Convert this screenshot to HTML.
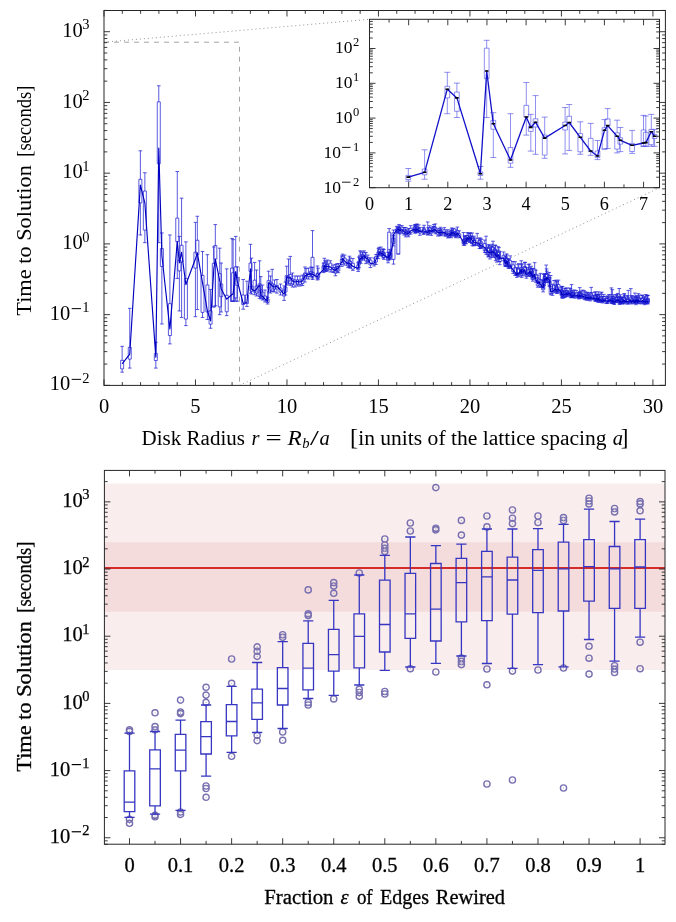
<!DOCTYPE html><html><head><meta charset="utf-8"><style>html,body{margin:0;padding:0;background:#fff;width:676px;height:922px;overflow:hidden}svg{display:block;will-change:transform}text{font-family:"Liberation Serif",serif;fill:#000}</style></head><body>
<svg width="676" height="922" viewBox="0 0 676 922">
<defs><clipPath id="cO"><rect x="104.0" y="10.5" width="561.4" height="374.9"/></clipPath><clipPath id="cI"><rect x="369.5" y="19.3" width="290.0" height="168.39999999999998"/></clipPath><clipPath id="cB"><rect x="104.4" y="470.4" width="560.6" height="373.8"/></clipPath></defs>
<path d="M104 42.2H239.5V385.4" fill="none" stroke="#959595" stroke-width="0.85" stroke-dasharray="5 5"/>
<path d="M104 42.2L369.5 19.3 M239.5 385.4L659.5 187.7" fill="none" stroke="#8c8c8c" stroke-width="0.95" stroke-dasharray="1 3"/>
<g clip-path="url(#cO)">
<path d="M122.13 346.34V360.36 M122.13 368.9V372.15 M120.33 346.34h3.6 M120.33 372.15h3.6 M120.63 360.36h3V368.9h-3Z M129.75 308.33V347.35 M129.75 359.14V368.08 M127.95 308.33h3.6 M127.95 368.08h3.6 M128.25 347.35h3V359.14h-3Z M140.36 150.81V179.27 M140.36 202.84V234.96 M138.56 150.81h3.6 M138.56 234.96h3.6 M138.86 179.27h3V202.84h-3Z M144.85 172.76V191.06 M144.85 230.08V242.68 M143.05 172.76h3.6 M143.05 242.68h3.6 M143.35 191.06h3V230.08h-3Z M155.83 342.27V353.45 M155.83 360.56V368.08 M154.03 342.27h3.6 M154.03 368.08h3.6 M154.33 353.45h3V360.56h-3Z M158.77 85.77V101.83 M158.77 163.82V242.68 M156.97 85.77h3.6 M156.97 242.68h3.6 M157.27 101.83h3V163.82h-3Z M161.86 232.92V248.57 M161.86 266.46V323.98 M160.06 232.92h3.6 M160.06 323.98h3.6 M160.36 248.57h3V266.46h-3Z M169.9 234.96V303.65 M169.9 335.56V343.9 M168.1 234.96h3.6 M168.1 343.9h3.6 M168.4 303.65h3V335.56h-3Z M177.28 171.54V218.09 M177.28 241.66V278.45 M175.48 171.54h3.6 M175.48 278.45h3.6 M175.78 218.09h3V241.66h-3Z M179.38 236.38V260.36 M179.38 270.93V310.97 M177.58 236.38h3.6 M177.58 310.97h3.6 M177.88 260.36h3V270.93h-3Z M181.58 198.17V245.32 M181.58 261.99V317.48 M179.78 198.17h3.6 M179.78 317.48h3.6 M180.08 245.32h3V261.99h-3Z M185.88 241.87V278.45 M185.88 319.1V325.61 M184.08 241.87h3.6 M184.08 325.61h3.6 M184.38 278.45h3V319.1h-3Z M195.41 222.36V252.23 M195.41 268.09V316.66 M193.61 222.36h3.6 M193.61 316.66h3.6 M193.91 252.23h3V268.09h-3Z M197.33 216.26V240.24 M197.33 254.47V309.55 M195.53 216.26h3.6 M195.53 309.55h3.6 M195.83 240.24h3V254.47h-3Z M202.52 251.42V275.4 M202.52 312.39V317.48 M200.72 251.42h3.6 M200.72 317.48h3.6 M201.02 275.4h3V312.39h-3Z M207.38 254.67V284.96 M207.38 311.99V319.51 M205.58 254.67h3.6 M205.58 319.51h3.6 M205.88 284.96h3V311.99h-3Z M210.56 289.43V310.77 M210.56 324.18V328.25 M208.76 289.43h3.6 M208.76 328.25h3.6 M209.06 310.77h3V324.18h-3Z M213.83 246.95V263.41 M213.83 306.91V306.91 M212.03 246.95h3.6 M212.03 306.91h3.6 M212.33 263.41h3V306.91h-3Z M215.32 224.59V245.53 M215.32 259.14V305.69 M213.52 224.59h3.6 M213.52 305.69h3.6 M213.82 245.53h3V259.14h-3Z M219.72 248.17V273.78 M219.72 306.91V314.63 M217.92 248.17h3.6 M217.92 314.63h3.6 M218.22 273.78h3V306.91h-3Z M221.21 263.01V283.94 M221.21 296.74V311.99 M219.41 263.01h3.6 M219.41 311.99h3.6 M219.71 283.94h3V296.74h-3Z M226.73 268.9V295.32 M226.73 311.78V315.65 M224.93 268.9h3.6 M224.93 315.65h3.6 M225.23 295.32h3V311.78h-3Z M232.06 238.41V268.09 M232.06 301.22V301.22 M230.26 238.41h3.6 M230.26 301.22h3.6 M230.56 268.09h3V301.22h-3Z M233.13 239.63V272.76 M233.13 301.22V301.22 M231.33 239.63h3.6 M231.33 301.22h3.6 M231.63 272.76h3V301.22h-3Z M235.7 236.38V266.87 M235.7 297.96V301.22 M233.9 236.38h3.6 M233.9 301.22h3.6 M234.2 266.87h3V297.96h-3Z M237.24 266.87V277.44 M237.24 285.36V301.22 M235.44 266.87h3.6 M235.44 301.22h3.6 M235.74 277.44h3V285.36h-3Z M243.2 279.5V295 M243.2 304.5V309.2 M241.4 279.5h3.6 M241.4 309.2h3.6 M241.7 295h3V304.5h-3Z M246.9 281.2V295 M246.9 303.5V306.4 M245.1 281.2h3.6 M245.1 306.4h3.6 M245.4 295h3V303.5h-3Z M250.5 244.3V263.1 M250.5 271.4V293.1 M248.7 244.3h3.6 M248.7 293.1h3.6 M249 263.1h3V271.4h-3Z M251.5 258.2V286 M251.5 291V294 M249.7 258.2h3.6 M249.7 294h3.6 M250 286h3V291h-3Z M254.6 262.4V280.2 M254.6 292.1V294.7 M252.8 262.4h3.6 M252.8 294.7h3.6 M253.1 280.2h3V292.1h-3Z M256.5 270V286 M256.5 293V296 M254.7 270h3.6 M254.7 296h3.6 M255 286h3V293h-3Z M259.6 260.8V283.8 M259.6 296.3V298.3 M257.8 260.8h3.6 M257.8 298.3h3.6 M258.1 283.8h3V296.3h-3Z M260.8 276.6V290 M260.8 297V298.8 M259 276.6h3.6 M259 298.8h3.6 M259.3 290h3V297h-3Z M262.5 285V292 M262.5 298V300 M260.7 285h3.6 M260.7 300h3.6 M261 292h3V298h-3Z M265 290V296 M265 300V302 M263.2 290h3.6 M263.2 302h3.6 M263.5 296h3V300h-3Z M267.6 297.3V299 M267.6 302.5V304 M265.8 297.3h3.6 M265.8 304h3.6 M266.1 299h3V302.5h-3Z M268.6 271.2V280.7 M268.6 288V292 M266.8 271.2h3.6 M266.8 292h3.6 M267.1 280.7h3V288h-3Z M270.5 276V282 M270.5 290V293 M268.7 276h3.6 M268.7 293h3.6 M269 282h3V290h-3Z M272.2 269.3V283.8 M272.2 291V291.5 M270.4 269.3h3.6 M270.4 291.5h3.6 M270.7 283.8h3V291h-3Z M274.5 280V285 M274.5 289V292 M272.7 280h3.6 M272.7 292h3.6 M273 285h3V289h-3Z M276.9 279.5V285.4 M276.9 289V293.1 M275.1 279.5h3.6 M275.1 293.1h3.6 M275.4 285.4h3V289h-3Z M280.5 284V288 M280.5 292V295 M278.7 284h3.6 M278.7 295h3.6 M279 288h3V292h-3Z M284.1 285.9V290 M284.1 296V300.4 M282.3 285.9h3.6 M282.3 300.4h3.6 M282.6 290h3V296h-3Z M285.5 282V287 M285.5 292V295 M283.7 282h3.6 M283.7 295h3.6 M284 287h3V292h-3Z M286.7 266.2V275.6 M286.7 282.8V285 M284.9 266.2h3.6 M284.9 285h3.6 M285.2 275.6h3V282.8h-3Z M288.5 259V276 M288.5 281V284 M286.7 259h3.6 M286.7 284h3.6 M287 276h3V281h-3Z M290.3 256.4V274.5 M290.3 283.8V285.4 M288.5 256.4h3.6 M288.5 285.4h3.6 M288.8 274.5h3V283.8h-3Z M292.5 273V279 M292.5 284V287 M290.7 273h3.6 M290.7 287h3.6 M291 279h3V284h-3Z M295 276V280 M295 285V287 M293.2 276h3.6 M293.2 287h3.6 M293.5 280h3V285h-3Z M297.5 276V280 M297.5 284V286 M295.7 276h3.6 M295.7 286h3.6 M296 280h3V284h-3Z M300 276V280 M300 284.5V286 M298.2 276h3.6 M298.2 286h3.6 M298.5 280h3V284.5h-3Z M302.5 275V279 M302.5 283.5V285.5 M300.7 275h3.6 M300.7 285.5h3.6 M301 279h3V283.5h-3Z M305 267V273 M305 279V282 M303.2 267h3.6 M303.2 282h3.6 M303.5 273h3V279h-3Z M306.1 268.55V273.48 M306.1 276.09V278.09 M304.3 268.55h3.6 M304.3 278.09h3.6 M304.6 273.48h3V276.09h-3Z M308.57 268.1V273.11 M308.57 276.39V279.08 M306.77 268.1h3.6 M306.77 279.08h3.6 M307.07 273.11h3V276.39h-3Z M311.01 267.05V271.41 M311.01 274.89V276.89 M309.21 267.05h3.6 M309.21 276.89h3.6 M309.51 271.41h3V274.89h-3Z M312.5 230.6V257.3 M312.5 276V278 M310.7 230.6h3.6 M310.7 278h3.6 M311 257.3h3V276h-3Z M312.62 267.4V272.41 M312.62 276.82V279.48 M310.82 267.4h3.6 M310.82 279.48h3.6 M311.12 272.41h3V276.82h-3Z M317.38 266.01V273.73 M317.38 278.36V279.98 M315.58 266.01h3.6 M315.58 279.98h3.6 M315.88 273.73h3V278.36h-3Z M318.16 268.16V273.06 M318.16 277.3V279.12 M316.36 268.16h3.6 M316.36 279.12h3.6 M316.66 273.06h3V277.3h-3Z M323.56 263.1V265.76 M323.56 271.26V272.61 M321.76 263.1h3.6 M321.76 272.61h3.6 M322.06 265.76h3V271.26h-3Z M324.33 258.28V262.81 M324.33 268.48V270.35 M322.53 258.28h3.6 M322.53 270.35h3.6 M322.83 262.81h3V268.48h-3Z M325.08 260.73V265.47 M325.08 269.14V271.64 M323.28 260.73h3.6 M323.28 271.64h3.6 M323.58 265.47h3V269.14h-3Z M326.59 261.74V264.74 M326.59 268.93V271.46 M324.79 261.74h3.6 M324.79 271.46h3.6 M325.09 264.74h3V268.93h-3Z M327.34 259.99V264.16 M327.34 269.29V270.53 M325.54 259.99h3.6 M325.54 270.53h3.6 M325.84 264.16h3V269.29h-3Z M330.32 260.75V263.18 M330.32 269.41V271.99 M328.52 260.75h3.6 M328.52 271.99h3.6 M328.82 263.18h3V269.41h-3Z M333.26 265.1V267.49 M333.26 271.64V272.55 M331.46 265.1h3.6 M331.46 272.55h3.6 M331.76 267.49h3V271.64h-3Z M335.44 264.42V267.7 M335.44 273.12V275.78 M333.64 264.42h3.6 M333.64 275.78h3.6 M333.94 267.7h3V273.12h-3Z M336.88 263.82V266.52 M336.88 269.87V271.95 M335.08 263.82h3.6 M335.08 271.95h3.6 M335.38 266.52h3V269.87h-3Z M338.32 263.6V266.63 M338.32 270.9V272.71 M336.52 263.6h3.6 M336.52 272.71h3.6 M336.82 266.63h3V270.9h-3Z M341.86 255.89V259.35 M341.86 264.43V266.38 M340.06 255.89h3.6 M340.06 266.38h3.6 M340.36 259.35h3V264.43h-3Z M342.56 254.14V256.13 M342.56 259.76V262.25 M340.76 254.14h3.6 M340.76 262.25h3.6 M341.06 256.13h3V259.76h-3Z M344.66 255.08V258.02 M344.66 263.18V265.1 M342.86 255.08h3.6 M342.86 265.1h3.6 M343.16 258.02h3V263.18h-3Z M348.11 259.87V262.57 M348.11 266.03V267.46 M346.31 259.87h3.6 M346.31 267.46h3.6 M346.61 262.57h3V266.03h-3Z M349.48 256.22V260.88 M349.48 265.99V267.75 M347.68 256.22h3.6 M347.68 267.75h3.6 M347.98 260.88h3V265.99h-3Z M350.16 257.96V261.26 M350.16 266.1V268.04 M348.36 257.96h3.6 M348.36 268.04h3.6 M348.66 261.26h3V266.1h-3Z M352.87 258.55V263.28 M352.87 268.99V270.37 M351.07 258.55h3.6 M351.07 270.37h3.6 M351.37 263.28h3V268.99h-3Z M358.19 262.78V265.09 M358.19 269.67V271.42 M356.39 262.78h3.6 M356.39 271.42h3.6 M356.69 265.09h3V269.67h-3Z M358.85 257.05V261.3 M358.85 264.86V267.52 M357.05 257.05h3.6 M357.05 267.52h3.6 M357.35 261.3h3V264.86h-3Z M360.16 250.75V255.28 M360.16 259.37V262.18 M358.36 250.75h3.6 M358.36 262.18h3.6 M358.66 255.28h3V259.37h-3Z M360.81 251.9V256.74 M360.81 260.81V263.34 M359.01 251.9h3.6 M359.01 263.34h3.6 M359.31 256.74h3V260.81h-3Z M362.76 251.92V254.44 M362.76 258.53V260.02 M360.96 251.92h3.6 M360.96 260.02h3.6 M361.26 254.44h3V258.53h-3Z M364.05 250.8V252.79 M364.05 257.19V258.71 M362.25 250.8h3.6 M362.25 258.71h3.6 M362.55 252.79h3V257.19h-3Z M365.97 252.45V256.69 M365.97 260.84V263.64 M364.17 252.45h3.6 M364.17 263.64h3.6 M364.47 256.69h3V260.84h-3Z M367.88 255.1V257.82 M367.88 261.49V262.6 M366.08 255.1h3.6 M366.08 262.6h3.6 M366.38 257.82h3V261.49h-3Z M370.41 257.79V260.15 M370.41 264.87V267.56 M368.61 257.79h3.6 M368.61 267.56h3.6 M368.91 260.15h3V264.87h-3Z M374.15 258V261.91 M374.15 264.27V265.96 M372.35 258h3.6 M372.35 265.96h3.6 M372.65 261.91h3V264.27h-3Z M376 254.47V256.63 M376 261.92V264.46 M374.2 254.47h3.6 M374.2 264.46h3.6 M374.5 256.63h3V261.92h-3Z M378.45 248.54V252.06 M378.45 255.93V258.61 M376.65 248.54h3.6 M376.65 258.61h3.6 M376.95 252.06h3V255.93h-3Z M379.06 247.38V249.62 M379.06 253.49V254.65 M377.26 247.38h3.6 M377.26 254.65h3.6 M377.56 249.62h3V253.49h-3Z M380.88 247.07V251.17 M380.88 254.59V256.01 M379.08 247.07h3.6 M379.08 256.01h3.6 M379.38 251.17h3V254.59h-3Z M382.69 249.09V251.72 M382.69 254.67V255.54 M380.89 249.09h3.6 M380.89 255.54h3.6 M381.19 251.72h3V254.67h-3Z M383.29 249.02V253.62 M383.29 257.05V258.1 M381.49 249.02h3.6 M381.49 258.1h3.6 M381.79 253.62h3V257.05h-3Z M383.89 249.56V252.6 M383.89 257.54V259.39 M382.09 249.56h3.6 M382.09 259.39h3.6 M382.39 252.6h3V257.54h-3Z M388.05 252.24V256.17 M388.05 260.69V262.78 M386.25 252.24h3.6 M386.25 262.78h3.6 M386.55 256.17h3V260.69h-3Z M388.63 252.57V254.68 M388.63 257.06V259.35 M386.83 252.57h3.6 M386.83 259.35h3.6 M387.13 254.68h3V257.06h-3Z M389.2 228.6V232.2 M389.2 252.9V259 M387.4 228.6h3.6 M387.4 259h3.6 M387.7 232.2h3V252.9h-3Z M389.81 249.36V253.75 M389.81 257.6V259.75 M388.01 249.36h3.6 M388.01 259.75h3.6 M388.31 253.75h3V257.6h-3Z M390.39 251.04V253.37 M390.39 256.99V258.69 M388.59 251.04h3.6 M388.59 258.69h3.6 M388.89 253.37h3V256.99h-3Z M393.3 235.7V238.12 M393.3 243.34V245.88 M391.5 235.7h3.6 M391.5 245.88h3.6 M391.8 238.12h3V243.34h-3Z M393.5 230V232.8 M393.5 259.4V264.1 M391.7 230h3.6 M391.7 264.1h3.6 M392 232.8h3V259.4h-3Z M396.75 226.27V229.05 M396.75 231.38V232.95 M394.95 226.27h3.6 M394.95 232.95h3.6 M395.25 229.05h3V231.38h-3Z M397.32 227.26V229.08 M397.32 231.19V232.56 M395.52 227.26h3.6 M395.52 232.56h3.6 M395.82 229.08h3V231.19h-3Z M398.3 227V232.8 M398.3 254V254 M396.5 227h3.6 M396.5 254h3.6 M396.8 232.8h3V254h-3Z M399.03 224.46V227.35 M399.03 229.95V231.47 M397.23 224.46h3.6 M397.23 231.47h3.6 M397.53 227.35h3V229.95h-3Z M399.6 225.88V228.27 M399.6 232.72V233.89 M397.8 225.88h3.6 M397.8 233.89h3.6 M398.1 228.27h3V232.72h-3Z M401.85 225.57V227.16 M401.85 231.21V233.16 M400.05 225.57h3.6 M400.05 233.16h3.6 M400.35 227.16h3V231.21h-3Z M404.09 227.45V229.26 M404.09 233.58V235.05 M402.29 227.45h3.6 M402.29 235.05h3.6 M402.59 229.26h3V233.58h-3Z M405.76 227.52V230.33 M405.76 234.82V236.86 M403.96 227.52h3.6 M403.96 236.86h3.6 M404.26 230.33h3V234.82h-3Z M406.87 229.79V231.59 M406.87 233.67V234.88 M405.07 229.79h3.6 M405.07 234.88h3.6 M405.37 231.59h3V233.67h-3Z M408.52 228.43V231.33 M408.52 235.01V236.72 M406.72 228.43h3.6 M406.72 236.72h3.6 M407.02 231.33h3V235.01h-3Z M410.71 225.66V228.28 M410.71 232.64V234.13 M408.91 225.66h3.6 M408.91 234.13h3.6 M409.21 228.28h3V232.64h-3Z M414.51 225.18V226.85 M414.51 230.32V231.39 M412.71 225.18h3.6 M412.71 231.39h3.6 M413.01 226.85h3V230.32h-3Z M415.05 224.51V227.12 M415.05 231.71V232.96 M413.25 224.51h3.6 M413.25 232.96h3.6 M413.55 227.12h3V231.71h-3Z M415.59 225.3V228.23 M415.59 232.33V233.11 M413.79 225.3h3.6 M413.79 233.11h3.6 M414.09 228.23h3V232.33h-3Z M416.66 224.2V226.97 M416.66 230.54V231.22 M414.86 224.2h3.6 M414.86 231.22h3.6 M415.16 226.97h3V230.54h-3Z M417.19 224.13V227.14 M417.19 231.15V232.26 M415.39 224.13h3.6 M415.39 232.26h3.6 M415.69 227.14h3V231.15h-3Z M418.79 224.9V228.4 M418.79 231.11V232.07 M416.99 224.9h3.6 M416.99 232.07h3.6 M417.29 228.4h3V231.11h-3Z M419.86 227.46V230.8 M419.86 233.09V235.24 M418.06 227.46h3.6 M418.06 235.24h3.6 M418.36 230.8h3V233.09h-3Z M423.54 227.4V229.37 M423.54 232.81V234.37 M421.74 227.4h3.6 M421.74 234.37h3.6 M422.04 229.37h3V232.81h-3Z M424.07 225.27V228.61 M424.07 232.34V233.78 M422.27 225.27h3.6 M422.27 233.78h3.6 M422.57 228.61h3V232.34h-3Z M427.71 221.94V230.99 M427.71 234.4V235.1 M425.91 221.94h3.6 M425.91 235.1h3.6 M426.21 230.99h3V234.4h-3Z M428.22 227.78V230.05 M428.22 232.44V233.59 M426.42 227.78h3.6 M426.42 233.59h3.6 M426.72 230.05h3V232.44h-3Z M429.77 225.78V227.54 M429.77 231.94V234.03 M427.97 225.78h3.6 M427.97 234.03h3.6 M428.27 227.54h3V231.94h-3Z M431.31 228.09V230.46 M431.31 233.19V235.39 M429.51 228.09h3.6 M429.51 235.39h3.6 M429.81 230.46h3V233.19h-3Z M433.35 226.47V228.07 M433.35 230.93V231.75 M431.55 226.47h3.6 M431.55 231.75h3.6 M431.85 228.07h3V230.93h-3Z M433.85 224.55V226.65 M433.85 230.53V231.97 M432.05 224.55h3.6 M432.05 231.97h3.6 M432.35 226.65h3V230.53h-3Z M435.37 223.93V227.24 M435.37 232.15V233.78 M433.57 223.93h3.6 M433.57 233.78h3.6 M433.87 227.24h3V232.15h-3Z M437.89 228.82V230.43 M437.89 234.23V236.02 M436.09 228.82h3.6 M436.09 236.02h3.6 M436.39 230.43h3V234.23h-3Z M439.89 228.79V230.4 M439.89 233.73V235.82 M438.09 228.79h3.6 M438.09 235.82h3.6 M438.39 230.4h3V233.73h-3Z M440.39 227.26V230.42 M440.39 233.14V235.31 M438.59 227.26h3.6 M438.59 235.31h3.6 M438.89 230.42h3V233.14h-3Z M441.38 228.86V231.24 M441.38 234.28V235.19 M439.58 228.86h3.6 M439.58 235.19h3.6 M439.88 231.24h3V234.28h-3Z M444.34 227.67V229.66 M444.34 233.86V235.92 M442.54 227.67h3.6 M442.54 235.92h3.6 M442.84 229.66h3V233.86h-3Z M445.82 231.08V232.78 M445.82 234.91V236.1 M444.02 231.08h3.6 M444.02 236.1h3.6 M444.32 232.78h3V234.91h-3Z M447.77 229.66V233.14 M447.77 236.11V237.92 M445.97 229.66h3.6 M445.97 237.92h3.6 M446.27 233.14h3V236.11h-3Z M449.23 231.23V233.49 M449.23 236.71V237.47 M447.43 231.23h3.6 M447.43 237.47h3.6 M447.73 233.49h3V236.71h-3Z M451.16 230.29V233.2 M451.16 235.79V237.78 M449.36 230.29h3.6 M449.36 237.78h3.6 M449.66 233.2h3V235.79h-3Z M451.64 227.97V230.46 M451.64 233.15V235.28 M449.84 227.97h3.6 M449.84 235.28h3.6 M450.14 230.46h3V233.15h-3Z M452.12 229.01V232.1 M452.12 233.74V235.78 M450.32 229.01h3.6 M450.32 235.78h3.6 M450.62 232.1h3V233.74h-3Z M453.56 228.39V231.96 M453.56 234.12V236.05 M451.76 228.39h3.6 M451.76 236.05h3.6 M452.06 231.96h3V234.12h-3Z M455.47 231.39V233.23 M455.47 235.46V236.93 M453.67 231.39h3.6 M453.67 236.93h3.6 M453.97 233.23h3V235.46h-3Z M455.95 229.14V232.35 M455.95 236.4V237.77 M454.15 229.14h3.6 M454.15 237.77h3.6 M454.45 232.35h3V236.4h-3Z M457.37 227.08V230.64 M457.37 234.18V235.83 M455.57 227.08h3.6 M455.57 235.83h3.6 M455.87 230.64h3V234.18h-3Z M459.26 230.8V233.87 M459.26 236.92V237.75 M457.46 230.8h3.6 M457.46 237.75h3.6 M457.76 233.87h3V236.92h-3Z M463.48 232.59V240.09 M463.48 243.45V245.04 M461.68 232.59h3.6 M461.68 245.04h3.6 M461.98 240.09h3V243.45h-3Z M464.41 235.99V239.47 M464.41 244V245.4 M462.61 235.99h3.6 M462.61 245.4h3.6 M462.91 239.47h3V244h-3Z M464.87 236.09V238.28 M464.87 242.91V243.61 M463.07 236.09h3.6 M463.07 243.61h3.6 M463.37 238.28h3V242.91h-3Z M466.26 235.49V238.62 M466.26 241.57V243.75 M464.46 235.49h3.6 M464.46 243.75h3.6 M464.76 238.62h3V241.57h-3Z M467.19 232.65V235.92 M467.19 239.05V240.09 M465.39 232.65h3.6 M465.39 240.09h3.6 M465.69 235.92h3V239.05h-3Z M468.57 233.11V237.26 M468.57 240.55V241.84 M466.77 233.11h3.6 M466.77 241.84h3.6 M467.07 237.26h3V240.55h-3Z M469.94 233.53V236.08 M469.94 239.83V242.34 M468.14 233.53h3.6 M468.14 242.34h3.6 M468.44 236.08h3V239.83h-3Z M470.4 232.73V236.3 M470.4 239.48V242.02 M468.6 232.73h3.6 M468.6 242.02h3.6 M468.9 236.3h3V239.48h-3Z M471.77 236.06V238.32 M471.77 242.68V243.6 M469.97 236.06h3.6 M469.97 243.6h3.6 M470.27 238.32h3V242.68h-3Z M472.22 233.01V236.97 M472.22 243V245.78 M470.42 233.01h3.6 M470.42 245.78h3.6 M470.72 236.97h3V243h-3Z M474.03 236.19V240.4 M474.03 244.89V245.83 M472.23 236.19h3.6 M472.23 245.83h3.6 M472.53 240.4h3V244.89h-3Z M474.49 237.97V240.49 M474.49 244.31V245.2 M472.69 237.97h3.6 M472.69 245.2h3.6 M472.99 240.49h3V244.31h-3Z M477.19 233.39V238.68 M477.19 244.06V245.47 M475.39 233.39h3.6 M475.39 245.47h3.6 M475.69 238.68h3V244.06h-3Z M479.42 237.96V240.41 M479.42 246.4V248.51 M477.62 237.96h3.6 M477.62 248.51h3.6 M477.92 240.41h3V246.4h-3Z M480.76 238.15V243.59 M480.76 247.49V248.59 M478.96 238.15h3.6 M478.96 248.59h3.6 M479.26 243.59h3V247.49h-3Z M481.2 239.37V241.81 M481.2 246.8V247.97 M479.4 239.37h3.6 M479.4 247.97h3.6 M479.7 241.81h3V246.8h-3Z M484.74 240.06V243.62 M484.74 250.71V252.41 M482.94 240.06h3.6 M482.94 252.41h3.6 M483.24 243.62h3V250.71h-3Z M486.05 236.2V247.47 M486.05 252.55V254.27 M484.25 236.2h3.6 M484.25 254.27h3.6 M484.55 247.47h3V252.55h-3Z M488.24 245.96V248.45 M488.24 255.37V257 M486.44 245.96h3.6 M486.44 257h3.6 M486.74 248.45h3V255.37h-3Z M488.67 244.43V247.74 M488.67 254.36V256.49 M486.87 244.43h3.6 M486.87 256.49h3.6 M487.17 247.74h3V254.36h-3Z M489.98 245.67V250.76 M489.98 255.87V258.98 M488.18 245.67h3.6 M488.18 258.98h3.6 M488.48 250.76h3V255.87h-3Z M491.71 246.18V249.93 M491.71 254.36V257.39 M489.91 246.18h3.6 M489.91 257.39h3.6 M490.21 249.93h3V254.36h-3Z M492.14 244.31V246.98 M492.14 252.68V253.84 M490.34 244.31h3.6 M490.34 253.84h3.6 M490.64 246.98h3V252.68h-3Z M493 241.2V247.26 M493 255.35V257.09 M491.2 241.2h3.6 M491.2 257.09h3.6 M491.5 247.26h3V255.35h-3Z M495.15 245.03V249.15 M495.15 255.22V256.9 M493.35 245.03h3.6 M493.35 256.9h3.6 M493.65 249.15h3V255.22h-3Z M495.57 245.47V251.08 M495.57 257.86V260.64 M493.77 245.47h3.6 M493.77 260.64h3.6 M494.07 251.08h3V257.86h-3Z M496.85 250.24V254.11 M496.85 259.15V262.13 M495.05 250.24h3.6 M495.05 262.13h3.6 M495.35 254.11h3V259.15h-3Z M498.13 246.62V252.43 M498.13 256.26V258.85 M496.33 246.62h3.6 M496.33 258.85h3.6 M496.63 252.43h3V256.26h-3Z M498.98 247.6V250.98 M498.98 258.34V261.53 M497.18 247.6h3.6 M497.18 261.53h3.6 M497.48 250.98h3V258.34h-3Z M499.82 251.61V257.22 M499.82 261.41V264.7 M498.02 251.61h3.6 M498.02 264.7h3.6 M498.32 257.22h3V261.41h-3Z M503.61 251.98V255.26 M503.61 258.68V260.89 M501.81 251.98h3.6 M501.81 260.89h3.6 M502.11 255.26h3V258.68h-3Z M505.28 256.1V260.4 M505.28 265.32V266.41 M503.48 256.1h3.6 M503.48 266.41h3.6 M503.78 260.4h3V265.32h-3Z M505.7 256.92V261.88 M505.7 265.43V266.45 M503.9 256.92h3.6 M503.9 266.45h3.6 M504.2 261.88h3V265.43h-3Z M506.53 253.88V258.78 M506.53 262.14V263.87 M504.73 253.88h3.6 M504.73 263.87h3.6 M505.03 258.78h3V262.14h-3Z M506.95 254.89V258.2 M506.95 262.68V263.87 M505.15 254.89h3.6 M505.15 263.87h3.6 M505.45 258.2h3V262.68h-3Z M508.19 259.34V262.34 M508.19 266.66V267.98 M506.39 259.34h3.6 M506.39 267.98h3.6 M506.69 262.34h3V266.66h-3Z M509.02 258.85V264.18 M509.02 267.02V268.37 M507.22 258.85h3.6 M507.22 268.37h3.6 M507.52 264.18h3V267.02h-3Z M510.26 255.86V260.71 M510.26 266.94V268.21 M508.46 255.86h3.6 M508.46 268.21h3.6 M508.76 260.71h3V266.94h-3Z M513.13 261.49V264.92 M513.13 271.47V273.36 M511.33 261.49h3.6 M511.33 273.36h3.6 M511.63 264.92h3V271.47h-3Z M515.17 261.78V267.73 M515.17 274.08V275.45 M513.37 261.78h3.6 M513.37 275.45h3.6 M513.67 267.73h3V274.08h-3Z M516.8 267.7V272.61 M516.8 275.55V277.33 M515 267.7h3.6 M515 277.33h3.6 M515.3 272.61h3V275.55h-3Z M518.01 264.33V269.07 M518.01 274.35V275.31 M516.21 264.33h3.6 M516.21 275.31h3.6 M516.51 269.07h3V274.35h-3Z M518.82 263.66V268.36 M518.82 274.36V276.42 M517.02 263.66h3.6 M517.02 276.42h3.6 M517.32 268.36h3V274.36h-3Z M521.24 260.76V267.45 M521.24 271.85V273.38 M519.44 260.76h3.6 M519.44 273.38h3.6 M519.74 267.45h3V271.85h-3Z M521.64 264.72V269.96 M521.64 275.28V277.38 M519.84 264.72h3.6 M519.84 277.38h3.6 M520.14 269.96h3V275.28h-3Z M522.04 263.76V269.92 M522.04 273.76V275.87 M520.24 263.76h3.6 M520.24 275.87h3.6 M520.54 269.92h3V273.76h-3Z M524.83 262.28V266.54 M524.83 271.24V272.16 M523.03 262.28h3.6 M523.03 272.16h3.6 M523.33 266.54h3V271.24h-3Z M525.23 262.45V267.44 M525.23 273.2V275.18 M523.43 262.45h3.6 M523.43 275.18h3.6 M523.73 267.44h3V273.2h-3Z M526.42 267.77V272.69 M526.42 276.45V278.21 M524.62 267.77h3.6 M524.62 278.21h3.6 M524.92 272.69h3V276.45h-3Z M528.4 264.39V269.75 M528.4 274.95V276.4 M526.6 264.39h3.6 M526.6 276.4h3.6 M526.9 269.75h3V274.95h-3Z M529.58 264.02V267.66 M529.58 273.09V275.07 M527.78 264.02h3.6 M527.78 275.07h3.6 M528.08 267.66h3V273.09h-3Z M530.76 268.55V271.67 M530.76 275.43V276.35 M528.96 268.55h3.6 M528.96 276.35h3.6 M529.26 271.67h3V275.43h-3Z M531.15 266.28V269.13 M531.15 273.93V275.69 M529.35 266.28h3.6 M529.35 275.69h3.6 M529.65 269.13h3V273.93h-3Z M532.32 268.54V271.44 M532.32 277.48V279.02 M530.52 268.54h3.6 M530.52 279.02h3.6 M530.82 271.44h3V277.48h-3Z M532.71 268.35V275.02 M532.71 279.25V281.17 M530.91 268.35h3.6 M530.91 281.17h3.6 M531.21 275.02h3V279.25h-3Z M534.66 262.67V269.17 M534.66 275.93V278.14 M532.86 262.67h3.6 M532.86 278.14h3.6 M533.16 269.17h3V275.93h-3Z M535.82 270.31V274.38 M535.82 280.23V282.18 M534.02 270.31h3.6 M534.02 282.18h3.6 M534.32 274.38h3V280.23h-3Z M537.76 277.79V281.02 M537.76 285.66V287.19 M535.96 277.79h3.6 M535.96 287.19h3.6 M536.26 281.02h3V285.66h-3Z M538.91 275.07V279 M538.91 283.08V283.84 M537.11 275.07h3.6 M537.11 283.84h3.6 M537.41 279h3V283.08h-3Z M540.45 273.4V279.62 M540.45 286.46V287.44 M538.65 273.4h3.6 M538.65 287.44h3.6 M538.95 279.62h3V286.46h-3Z M543.13 280.43V284.5 M543.13 289.76V291.88 M541.33 280.43h3.6 M541.33 291.88h3.6 M541.63 284.5h3V289.76h-3Z M543.51 274.08V280.65 M543.51 286.33V288.06 M541.71 274.08h3.6 M541.71 288.06h3.6 M542.01 280.65h3V286.33h-3Z M543.89 274.29V279.21 M543.89 284.07V285.35 M542.09 274.29h3.6 M542.09 285.35h3.6 M542.39 279.21h3V284.07h-3Z M544.65 273.69V276.51 M544.65 280.64V282.67 M542.85 273.69h3.6 M542.85 282.67h3.6 M543.15 276.51h3V280.64h-3Z M546.17 265.06V274.48 M546.17 281.29V282.5 M544.37 265.06h3.6 M544.37 282.5h3.6 M544.67 274.48h3V281.29h-3Z M546.55 268.9V273.56 M546.55 278.77V280.92 M544.75 268.9h3.6 M544.75 280.92h3.6 M545.05 273.56h3V278.77h-3Z M546.92 271.14V273.78 M546.92 278.47V279.74 M545.12 271.14h3.6 M545.12 279.74h3.6 M545.42 273.78h3V278.47h-3Z M549.19 272.51V277.44 M549.19 281.46V282.48 M547.39 272.51h3.6 M547.39 282.48h3.6 M547.69 277.44h3V281.46h-3Z M549.56 277.75V281.32 M549.56 285.58V286.52 M547.76 277.75h3.6 M547.76 286.52h3.6 M548.06 281.32h3V285.58h-3Z M550.69 275.5V286.92 M550.69 293.6V294.72 M548.89 275.5h3.6 M548.89 294.72h3.6 M549.19 286.92h3V293.6h-3Z M552.56 284.21V288.56 M552.56 293.11V295.32 M550.76 284.21h3.6 M550.76 295.32h3.6 M551.06 288.56h3V293.11h-3Z M554.05 280.51V285.19 M554.05 290.77V292.11 M552.25 280.51h3.6 M552.25 292.11h3.6 M552.55 285.19h3V290.77h-3Z M555.9 280.13V284.87 M555.9 289.94V292.13 M554.1 280.13h3.6 M554.1 292.13h3.6 M554.4 284.87h3V289.94h-3Z M556.64 281.08V286.17 M556.64 291.41V293.4 M554.84 281.08h3.6 M554.84 293.4h3.6 M555.14 286.17h3V291.41h-3Z M557.01 281.75V287.81 M557.01 291.2V293.14 M555.21 281.75h3.6 M555.21 293.14h3.6 M555.51 287.81h3V291.2h-3Z M558.49 280.14V284.54 M558.49 291V292.87 M556.69 280.14h3.6 M556.69 292.87h3.6 M556.99 284.54h3V291h-3Z M561.42 287.69V290.38 M561.42 293.31V294.51 M559.62 287.69h3.6 M559.62 294.51h3.6 M559.92 290.38h3V293.31h-3Z M561.79 286.34V289.88 M561.79 296.16V297.7 M559.99 286.34h3.6 M559.99 297.7h3.6 M560.29 289.88h3V296.16h-3Z M562.52 286.52V291.45 M562.52 295.86V298.02 M560.72 286.52h3.6 M560.72 298.02h3.6 M561.02 291.45h3V295.86h-3Z M562.89 290.24V293.64 M562.89 296.25V298.06 M561.09 290.24h3.6 M561.09 298.06h3.6 M561.39 293.64h3V296.25h-3Z M564.71 288.32V291.99 M564.71 296.55V297.57 M562.91 288.32h3.6 M562.91 297.57h3.6 M563.21 291.99h3V296.55h-3Z M565.8 288.22V291.13 M565.8 295.44V296.86 M564 288.22h3.6 M564 296.86h3.6 M564.3 291.13h3V295.44h-3Z M566.88 287.98V290.4 M566.88 294.38V295.11 M565.08 287.98h3.6 M565.08 295.11h3.6 M565.38 290.4h3V294.38h-3Z M567.24 290.88V292.7 M567.24 294.92V296.44 M565.44 290.88h3.6 M565.44 296.44h3.6 M565.74 292.7h3V294.92h-3Z M569.77 288V291.4 M569.77 294.14V295.41 M567.97 288h3.6 M567.97 295.41h3.6 M568.27 291.4h3V294.14h-3Z M570.48 288.72V292.68 M570.48 296.2V297.68 M568.68 288.72h3.6 M568.68 297.68h3.6 M568.98 292.68h3V296.2h-3Z M571.56 284.6V293.11 M571.56 297.01V297.64 M569.76 284.6h3.6 M569.76 297.64h3.6 M570.06 293.11h3V297.01h-3Z M572.63 290.31V292.67 M572.63 296.92V297.53 M570.83 290.31h3.6 M570.83 297.53h3.6 M571.13 292.67h3V296.92h-3Z M572.99 291.09V292.65 M572.99 295.66V296.44 M571.19 291.09h3.6 M571.19 296.44h3.6 M571.49 292.65h3V295.66h-3Z M574.41 290.03V293.04 M574.41 296.64V298.08 M572.61 290.03h3.6 M572.61 298.08h3.6 M572.91 293.04h3V296.64h-3Z M576.19 290.38V292.92 M576.19 296.54V297.82 M574.39 290.38h3.6 M574.39 297.82h3.6 M574.69 292.92h3V296.54h-3Z M578.67 292.68V294.69 M578.67 297.67V298.17 M576.87 292.68h3.6 M576.87 298.17h3.6 M577.17 294.69h3V297.67h-3Z M579.02 292.16V295.14 M579.02 297.59V298.96 M577.22 292.16h3.6 M577.22 298.96h3.6 M577.52 295.14h3V297.59h-3Z M579.72 287.64V291.97 M579.72 295.82V296.63 M577.92 287.64h3.6 M577.92 296.63h3.6 M578.22 291.97h3V295.82h-3Z M580.07 292.03V293.78 M580.07 296.6V297.96 M578.27 292.03h3.6 M578.27 297.96h3.6 M578.57 293.78h3V296.6h-3Z M581.13 290.91V293.6 M581.13 296.65V298.13 M579.33 290.91h3.6 M579.33 298.13h3.6 M579.63 293.6h3V296.65h-3Z M582.88 290.09V294.29 M582.88 296.89V297.95 M581.08 290.09h3.6 M581.08 297.95h3.6 M581.38 294.29h3V296.89h-3Z M584.27 290.78V294.54 M584.27 297.95V299.27 M582.47 290.78h3.6 M582.47 299.27h3.6 M582.77 294.54h3V297.95h-3Z M585.32 291.89V295.37 M585.32 298.51V299.83 M583.52 291.89h3.6 M583.52 299.83h3.6 M583.82 295.37h3V298.51h-3Z M587.05 292.71V295.6 M587.05 298.79V300.27 M585.25 292.71h3.6 M585.25 300.27h3.6 M585.55 295.6h3V298.79h-3Z M587.4 292.25V294.22 M587.4 298.45V299.12 M585.6 292.25h3.6 M585.6 299.12h3.6 M585.9 294.22h3V298.45h-3Z M588.44 293.76V295.83 M588.44 298.41V299.99 M586.64 293.76h3.6 M586.64 299.99h3.6 M586.94 295.83h3V298.41h-3Z M590.16 292.55V297.01 M590.16 299.53V300.91 M588.36 292.55h3.6 M588.36 300.91h3.6 M588.66 297.01h3V299.53h-3Z M591.2 287.38V294.09 M591.2 297.39V298.32 M589.4 287.38h3.6 M589.4 298.32h3.6 M589.7 294.09h3V297.39h-3Z M592.22 292.67V295.56 M592.22 299.16V299.82 M590.42 292.67h3.6 M590.42 299.82h3.6 M590.72 295.56h3V299.16h-3Z M594.96 292.02V295.25 M594.96 299.44V300.76 M593.16 292.02h3.6 M593.16 300.76h3.6 M593.46 295.25h3V299.44h-3Z M595.64 291.93V295.53 M595.64 300.04V301.48 M593.84 291.93h3.6 M593.84 301.48h3.6 M594.14 295.53h3V300.04h-3Z M596.32 294.5V296.29 M596.32 299.51V300.47 M594.52 294.5h3.6 M594.52 300.47h3.6 M594.82 296.29h3V299.51h-3Z M596.66 294.11V296.98 M596.66 299.84V301.03 M594.86 294.11h3.6 M594.86 301.03h3.6 M595.16 296.98h3V299.84h-3Z M598.02 294.54V298.37 M598.02 301.36V302.29 M596.22 294.54h3.6 M596.22 302.29h3.6 M596.52 298.37h3V301.36h-3Z M598.36 291.8V295.65 M598.36 298.81V300.35 M596.56 291.8h3.6 M596.56 300.35h3.6 M596.86 295.65h3V298.81h-3Z M599.37 294.31V297.35 M599.37 301.12V302.32 M597.57 294.31h3.6 M597.57 302.32h3.6 M597.87 297.35h3V301.12h-3Z M601.06 292.94V296.49 M601.06 300.52V301.45 M599.26 292.94h3.6 M599.26 301.45h3.6 M599.56 296.49h3V300.52h-3Z M601.73 292.13V299.12 M601.73 301.8V302.74 M599.93 292.13h3.6 M599.93 302.74h3.6 M600.23 299.12h3V301.8h-3Z M603.41 296.44V298.61 M603.41 301.51V302.82 M601.61 296.44h3.6 M601.61 302.82h3.6 M601.91 298.61h3V301.51h-3Z M603.75 294.46V296.6 M603.75 300.53V301.17 M601.95 294.46h3.6 M601.95 301.17h3.6 M602.25 296.6h3V300.53h-3Z M606.42 296.35V298.53 M606.42 301.98V303.54 M604.62 296.35h3.6 M604.62 303.54h3.6 M604.92 298.53h3V301.98h-3Z M607.42 295.99V298.37 M607.42 302.42V303.52 M605.62 295.99h3.6 M605.62 303.52h3.6 M605.92 298.37h3V302.42h-3Z M608.75 294.7V297.32 M608.75 301.22V302 M606.95 294.7h3.6 M606.95 302h3.6 M607.25 297.32h3V301.22h-3Z M610.07 294.63V296.86 M610.07 300.52V301.35 M608.27 294.63h3.6 M608.27 301.35h3.6 M608.57 296.86h3V300.52h-3Z M611.39 287.91V298.51 M611.39 302.13V303.57 M609.59 287.91h3.6 M609.59 303.57h3.6 M609.89 298.51h3V302.13h-3Z M612.38 289.69V299.9 M612.38 303V303.51 M610.58 289.69h3.6 M610.58 303.51h3.6 M610.88 299.9h3V303h-3Z M612.71 296.5V298.7 M612.71 300.96V302.31 M610.91 296.5h3.6 M610.91 302.31h3.6 M611.21 298.7h3V300.96h-3Z M613.7 294.71V298.89 M613.7 302.55V303.72 M611.9 294.71h3.6 M611.9 303.72h3.6 M612.2 298.89h3V302.55h-3Z M614.35 296.78V298.87 M614.35 303.27V304.53 M612.55 296.78h3.6 M612.55 304.53h3.6 M612.85 298.87h3V303.27h-3Z M616.32 295.29V297.59 M616.32 301.86V302.62 M614.52 295.29h3.6 M614.52 302.62h3.6 M614.82 297.59h3V301.86h-3Z M616.64 294.53V297.51 M616.64 300.5V301.55 M614.84 294.53h3.6 M614.84 301.55h3.6 M615.14 297.51h3V300.5h-3Z M617.62 293.45V296.63 M617.62 300.73V301.96 M615.82 293.45h3.6 M615.82 301.96h3.6 M616.12 296.63h3V300.73h-3Z M619.25 288.53V297.38 M619.25 301.29V302.49 M617.45 288.53h3.6 M617.45 302.49h3.6 M617.75 297.38h3V301.29h-3Z M619.57 296.84V299.87 M619.57 303.52V304.55 M617.77 296.84h3.6 M617.77 304.55h3.6 M618.07 299.87h3V303.52h-3Z M620.55 294.72V298.8 M620.55 302.32V303.23 M618.75 294.72h3.6 M618.75 303.23h3.6 M619.05 298.8h3V302.32h-3Z M621.52 297.04V299.8 M621.52 302.6V303.71 M619.72 297.04h3.6 M619.72 303.71h3.6 M620.02 299.8h3V302.6h-3Z M621.84 297.26V299.57 M621.84 302.83V303.89 M620.04 297.26h3.6 M620.04 303.89h3.6 M620.34 299.57h3V302.83h-3Z M622.16 297.25V299.65 M622.16 302.56V303.7 M620.36 297.25h3.6 M620.36 303.7h3.6 M620.66 299.65h3V302.56h-3Z M624.1 294.02V297.16 M624.1 301.48V302.03 M622.3 294.02h3.6 M622.3 302.03h3.6 M622.6 297.16h3V301.48h-3Z M624.42 293.66V297.13 M624.42 301.55V302.91 M622.62 293.66h3.6 M622.62 302.91h3.6 M622.92 297.13h3V301.55h-3Z M624.74 295.47V298.76 M624.74 302.68V303.93 M622.94 295.47h3.6 M622.94 303.93h3.6 M623.24 298.76h3V302.68h-3Z M627.31 296.2V298.24 M627.31 301.78V302.32 M625.51 296.2h3.6 M625.51 302.32h3.6 M625.81 298.24h3V301.78h-3Z M627.95 295.67V299.53 M627.95 303.08V304.19 M626.15 295.67h3.6 M626.15 304.19h3.6 M626.45 299.53h3V303.08h-3Z M628.27 290.39V299.09 M628.27 302.1V303.63 M626.47 290.39h3.6 M626.47 303.63h3.6 M626.77 299.09h3V302.1h-3Z M630.81 288.62V297.42 M630.81 301.58V302.57 M629.01 288.62h3.6 M629.01 302.57h3.6 M629.31 297.42h3V301.58h-3Z M631.77 296.26V299 M631.77 303.39V304 M629.97 296.26h3.6 M629.97 304h3.6 M630.27 299h3V303.39h-3Z M632.08 295.48V299.03 M632.08 300.97V301.6 M630.28 295.48h3.6 M630.28 301.6h3.6 M630.58 299.03h3V300.97h-3Z M634.61 296.74V300.4 M634.61 302.58V303.34 M632.81 296.74h3.6 M632.81 303.34h3.6 M633.11 300.4h3V302.58h-3Z M634.93 293.06V297.13 M634.93 301.36V302.66 M633.13 293.06h3.6 M633.13 302.66h3.6 M633.43 297.13h3V301.36h-3Z M635.87 297.03V299.29 M635.87 303.13V304.69 M634.07 297.03h3.6 M634.07 304.69h3.6 M634.37 299.29h3V303.13h-3Z M636.82 295.45V297.19 M636.82 301.29V302.14 M635.02 295.45h3.6 M635.02 302.14h3.6 M635.32 297.19h3V301.29h-3Z M637.44 296.92V299.52 M637.44 302.46V303.59 M635.64 296.92h3.6 M635.64 303.59h3.6 M635.94 299.52h3V302.46h-3Z M638.39 293.7V297.13 M638.39 301.03V302.22 M636.59 293.7h3.6 M636.59 302.22h3.6 M636.89 297.13h3V301.03h-3Z M639.64 295.11V298.32 M639.64 302.97V303.79 M637.84 295.11h3.6 M637.84 303.79h3.6 M638.14 298.32h3V302.97h-3Z M642.13 295.02V298.33 M642.13 302.25V303.83 M640.33 295.02h3.6 M640.33 303.83h3.6 M640.63 298.33h3V302.25h-3Z M642.44 295.55V298.18 M642.44 301.92V303.17 M640.64 295.55h3.6 M640.64 303.17h3.6 M640.94 298.18h3V301.92h-3Z M644.3 297.38V299.67 M644.3 302.14V303.1 M642.5 297.38h3.6 M642.5 303.1h3.6 M642.8 299.67h3V302.14h-3Z M644.61 296.41V300.35 M644.61 303.25V304.7 M642.81 296.41h3.6 M642.81 304.7h3.6 M643.11 300.35h3V303.25h-3Z M645.85 294.49V298.73 M645.85 303V303.88 M644.05 294.49h3.6 M644.05 303.88h3.6 M644.35 298.73h3V303h-3Z M647.09 295.52V299.81 M647.09 302.94V303.7 M645.29 295.52h3.6 M645.29 303.7h3.6 M645.59 299.81h3V302.94h-3Z M647.39 295.25V299 M647.39 301.6V302.97 M645.59 295.25h3.6 M645.59 302.97h3.6 M645.89 299h3V301.6h-3Z M648.01 295.45V298.69 M648.01 302.39V303.88 M646.21 295.45h3.6 M646.21 303.88h3.6 M646.51 298.69h3V302.39h-3Z" fill="none" stroke="rgba(30,30,210,0.82)" stroke-width="0.9"/>
<polyline points="122.13,363.82 129.75,354.06 140.36,185.16 144.85,202.84 155.83,357.11 158.77,148.17 161.86,255.49 169.9,329.06 177.28,241.66 179.38,262.8 181.58,252.23 185.88,284.55 195.41,258.94 197.33,252.84 202.52,282.92 207.38,310.77 210.56,320.93 213.83,268.7 215.32,259.14 219.72,280.69 221.21,289.02 226.73,299.18 232.06,294.51 233.13,293.7 235.7,271.54 237.24,280.89 243.2,303.5 246.9,302.5 250.5,268.8 251.5,289 254.6,291.1 256.5,289 259.6,284.9 260.8,295.2 262.5,296.5 265,299 267.6,301.4 268.6,282.8 270.5,284 272.2,285.9 274.5,287 276.9,286.4 280.5,290 284.1,294.2 285.5,289.5 286.7,276.6 288.5,278 290.3,277.6 292.5,281 295,282 297.5,281.5 300,282 302.5,281 305,276 306.1,275.14 308.57,274.39 311.01,273.65 312.5,274.5 312.62,274.24 317.38,277 318.16,274.98 323.56,269.62 324.33,265.74 325.08,266.9 326.59,266.42 327.34,266.46 330.32,266.88 333.26,269.64 335.44,270.34 336.88,268.4 338.32,268.17 341.86,261.69 342.56,258.51 344.66,261.18 348.11,264.03 349.48,263.58 350.16,263.83 352.87,266.35 358.19,268.53 358.85,262.66 360.16,258.23 360.81,258.97 362.76,256.99 364.05,255.45 365.97,258.02 367.88,259.08 370.41,263.51 374.15,263.3 376,259.48 378.45,254.41 379.06,252.17 380.88,253.14 382.69,253.79 383.29,255.27 383.89,255.06 388.05,258.21 388.63,255.96 389.2,256.5 389.81,255.11 390.39,255.26 393.3,241.57 393.5,234.5 396.75,230.03 397.32,230.05 398.3,229.5 399.03,228.91 399.6,230.68 401.85,229.56 404.09,231.67 405.76,232.89 406.87,232.96 408.52,233.39 410.71,230.83 414.51,229.27 415.05,229.55 415.59,230.72 416.66,229.41 417.19,229.43 418.79,230.27 419.86,231.72 423.54,230.7 424.07,231.48 427.71,232.36 428.22,231.56 429.77,229.99 431.31,231.96 433.35,229.85 433.85,229.48 435.37,230.12 437.89,232.46 439.89,232.63 440.39,232.02 441.38,232.76 444.34,232.44 445.82,233.96 447.77,234.57 449.23,235.47 451.16,234.35 451.64,231.87 452.12,233.03 453.56,232.86 455.47,234.64 455.95,234.75 457.37,233.16 459.26,235.28 463.48,242.2 464.41,242.35 464.87,241.17 466.26,240.47 467.19,237.64 468.57,239.45 469.94,237.67 470.4,237.93 471.77,239.99 472.22,240.45 474.03,242.1 474.49,242.73 477.19,242.83 479.42,244.37 480.76,245.6 481.2,245.67 484.74,247.48 486.05,249.75 488.24,251.99 488.67,252.35 489.98,252.81 491.71,252.48 492.14,250.98 493,252.05 495.15,252.33 495.57,254.87 496.85,256.61 498.13,254.76 498.98,255.93 499.82,259.07 503.61,257.82 505.28,263.26 505.7,263.8 506.53,261.05 506.95,260.91 508.19,265.87 509.02,266.06 510.26,265.74 513.13,270.17 515.17,272.67 516.8,274.81 518.01,273.01 518.82,273.46 521.24,269.55 521.64,273.04 522.04,272.37 524.83,269.66 525.23,272.42 526.42,274.74 528.4,273.53 529.58,271.57 530.76,273.93 531.15,272.37 532.32,275.93 532.71,277.12 534.66,274.41 535.82,279.42 537.76,283.62 538.91,281.55 540.45,284.64 543.13,288.02 543.51,285.46 543.89,281.75 544.65,278.73 546.17,279.65 546.55,277.37 546.92,277.73 549.19,279.82 549.56,283.37 550.69,291.65 552.56,291.38 554.05,290.01 555.9,289.23 556.64,289.91 557.01,290.43 558.49,289.12 561.42,292.27 561.79,294.37 562.52,294.78 562.89,295.18 564.71,294.57 565.8,293.96 566.88,293.35 567.24,294.49 569.77,292.98 570.48,294.9 571.56,296.49 572.63,295.82 572.99,294.79 574.41,295.18 576.19,295.29 578.67,296.37 579.02,296.65 579.72,295.13 580.07,295.5 581.13,295.81 582.88,296.2 584.27,296.96 585.32,297.18 587.05,298.26 587.4,297.12 588.44,297.65 590.16,298.71 591.2,296.87 592.22,298.06 594.96,298.56 595.64,298.79 596.32,298.42 596.66,298.98 598.02,300.24 598.36,298.23 599.37,299.93 601.06,299.89 601.73,301.34 603.41,300.82 603.75,299.7 606.42,300.96 607.42,301.51 608.75,300.53 610.07,299.81 611.39,301.33 612.38,301.68 612.71,300.4 613.7,301.97 614.35,301.95 616.32,300.85 616.64,299.94 617.62,299.82 619.25,300.81 619.57,302.04 620.55,301.55 621.52,301.73 621.84,301.88 622.16,301.81 624.1,300.1 624.42,300.48 624.74,301.52 627.31,301.26 627.95,301.77 628.27,301.23 630.81,300.54 631.77,302.46 632.08,300.56 634.61,302.16 634.93,300.17 635.87,301.71 636.82,299.99 637.44,301.99 638.39,300.23 639.64,301.71 642.13,301.49 642.44,300.54 644.3,301.74 644.61,301.93 645.85,301.84 647.09,301.71 647.39,300.92 648.01,301.74" fill="none" stroke="#0000c0" stroke-width="1.15" stroke-linejoin="round"/>
</g>
<path d="M104 385.36h6 M665.4 385.36h-6 M104 364.07h3.3 M665.4 364.07h-3.3 M104 351.61h3.3 M665.4 351.61h-3.3 M104 342.78h3.3 M665.4 342.78h-3.3 M104 335.92h3.3 M665.4 335.92h-3.3 M104 330.32h3.3 M665.4 330.32h-3.3 M104 325.59h3.3 M665.4 325.59h-3.3 M104 321.48h3.3 M665.4 321.48h-3.3 M104 317.87h3.3 M665.4 317.87h-3.3 M104 314.63h6 M665.4 314.63h-6 M104 293.34h3.3 M665.4 293.34h-3.3 M104 280.88h3.3 M665.4 280.88h-3.3 M104 272.05h3.3 M665.4 272.05h-3.3 M104 265.19h3.3 M665.4 265.19h-3.3 M104 259.59h3.3 M665.4 259.59h-3.3 M104 254.86h3.3 M665.4 254.86h-3.3 M104 250.75h3.3 M665.4 250.75h-3.3 M104 247.14h3.3 M665.4 247.14h-3.3 M104 243.9h6 M665.4 243.9h-6 M104 222.61h3.3 M665.4 222.61h-3.3 M104 210.15h3.3 M665.4 210.15h-3.3 M104 201.32h3.3 M665.4 201.32h-3.3 M104 194.46h3.3 M665.4 194.46h-3.3 M104 188.86h3.3 M665.4 188.86h-3.3 M104 184.13h3.3 M665.4 184.13h-3.3 M104 180.02h3.3 M665.4 180.02h-3.3 M104 176.41h3.3 M665.4 176.41h-3.3 M104 173.17h6 M665.4 173.17h-6 M104 151.88h3.3 M665.4 151.88h-3.3 M104 139.42h3.3 M665.4 139.42h-3.3 M104 130.59h3.3 M665.4 130.59h-3.3 M104 123.73h3.3 M665.4 123.73h-3.3 M104 118.13h3.3 M665.4 118.13h-3.3 M104 113.4h3.3 M665.4 113.4h-3.3 M104 109.29h3.3 M665.4 109.29h-3.3 M104 105.68h3.3 M665.4 105.68h-3.3 M104 102.44h6 M665.4 102.44h-6 M104 81.15h3.3 M665.4 81.15h-3.3 M104 68.69h3.3 M665.4 68.69h-3.3 M104 59.86h3.3 M665.4 59.86h-3.3 M104 53h3.3 M665.4 53h-3.3 M104 47.4h3.3 M665.4 47.4h-3.3 M104 42.67h3.3 M665.4 42.67h-3.3 M104 38.56h3.3 M665.4 38.56h-3.3 M104 34.95h3.3 M665.4 34.95h-3.3 M104 31.71h6 M665.4 31.71h-6 M104 10.42h3.3 M665.4 10.42h-3.3" stroke="#262626" stroke-width="0.9" fill="none"/>
<path d="M104 385.4v-6 M104 10.5v6 M195.49 385.4v-6 M195.49 10.5v6 M286.97 385.4v-6 M286.97 10.5v6 M378.45 385.4v-6 M378.45 10.5v6 M469.94 385.4v-6 M469.94 10.5v6 M561.42 385.4v-6 M561.42 10.5v6 M652.91 385.4v-6 M652.91 10.5v6 M122.3 385.4v-3.3 M122.3 10.5v3.3 M140.59 385.4v-3.3 M140.59 10.5v3.3 M158.89 385.4v-3.3 M158.89 10.5v3.3 M177.19 385.4v-3.3 M177.19 10.5v3.3 M213.78 385.4v-3.3 M213.78 10.5v3.3 M232.08 385.4v-3.3 M232.08 10.5v3.3 M250.38 385.4v-3.3 M250.38 10.5v3.3 M268.67 385.4v-3.3 M268.67 10.5v3.3 M305.27 385.4v-3.3 M305.27 10.5v3.3 M323.56 385.4v-3.3 M323.56 10.5v3.3 M341.86 385.4v-3.3 M341.86 10.5v3.3 M360.16 385.4v-3.3 M360.16 10.5v3.3 M396.75 385.4v-3.3 M396.75 10.5v3.3 M415.05 385.4v-3.3 M415.05 10.5v3.3 M433.35 385.4v-3.3 M433.35 10.5v3.3 M451.64 385.4v-3.3 M451.64 10.5v3.3 M488.24 385.4v-3.3 M488.24 10.5v3.3 M506.53 385.4v-3.3 M506.53 10.5v3.3 M524.83 385.4v-3.3 M524.83 10.5v3.3 M543.13 385.4v-3.3 M543.13 10.5v3.3 M579.72 385.4v-3.3 M579.72 10.5v3.3 M598.02 385.4v-3.3 M598.02 10.5v3.3 M616.32 385.4v-3.3 M616.32 10.5v3.3 M634.61 385.4v-3.3 M634.61 10.5v3.3" stroke="#262626" stroke-width="0.9" fill="none"/>
<rect x="104.0" y="10.5" width="561.4" height="374.9" fill="none" stroke="#262626" stroke-width="1"/>
<rect x="369.5" y="19.3" width="290" height="168.4" fill="#fff"/>
<g clip-path="url(#cI)">
<path d="M408.3 168.5V175.4 M408.3 179.6V181.2 M405.3 168.5h6 M405.3 181.2h6 M405.95 175.4h4.7V179.6h-4.7Z M424.6 149.8V169 M424.6 174.8V179.2 M421.6 149.8h6 M421.6 179.2h6 M422.25 169h4.7V174.8h-4.7Z M447.3 72.3V86.3 M447.3 97.9V113.7 M444.3 72.3h6 M444.3 113.7h6 M444.95 86.3h4.7V97.9h-4.7Z M456.9 83.1V92.1 M456.9 111.3V117.5 M453.9 83.1h6 M453.9 117.5h6 M454.55 92.1h4.7V111.3h-4.7Z M480.4 166.5V172 M480.4 175.5V179.2 M477.4 166.5h6 M477.4 179.2h6 M478.05 172h4.7V175.5h-4.7Z M486.7 40.3V48.2 M486.7 78.7V117.5 M483.7 40.3h6 M483.7 117.5h6 M484.35 48.2h4.7V78.7h-4.7Z M493.3 112.7V120.4 M493.3 129.2V157.5 M490.3 112.7h6 M490.3 157.5h6 M490.95 120.4h4.7V129.2h-4.7Z M510.5 113.7V147.5 M510.5 163.2V167.3 M507.5 113.7h6 M507.5 167.3h6 M508.15 147.5h4.7V163.2h-4.7Z M526.3 82.5V105.4 M526.3 117V135.1 M523.3 82.5h6 M523.3 135.1h6 M523.95 105.4h4.7V117h-4.7Z M530.8 114.4V126.2 M530.8 131.4V151.1 M527.8 114.4h6 M527.8 151.1h6 M528.45 126.2h4.7V131.4h-4.7Z M535.5 95.6V118.8 M535.5 127V154.3 M532.5 95.6h6 M532.5 154.3h6 M533.15 118.8h4.7V127h-4.7Z M544.7 117.1V135.1 M544.7 155.1V158.3 M541.7 117.1h6 M541.7 158.3h6 M542.35 135.1h4.7V155.1h-4.7Z M565.1 107.5V122.2 M565.1 130V153.9 M562.1 107.5h6 M562.1 153.9h6 M562.75 122.2h4.7V130h-4.7Z M569.2 104.5V116.3 M569.2 123.3V150.4 M566.2 104.5h6 M566.2 150.4h6 M566.85 116.3h4.7V123.3h-4.7Z M580.3 121.8V133.6 M580.3 151.8V154.3 M577.3 121.8h6 M577.3 154.3h6 M577.95 133.6h4.7V151.8h-4.7Z M590.7 123.4V138.3 M590.7 151.6V155.3 M587.7 123.4h6 M587.7 155.3h6 M588.35 138.3h4.7V151.6h-4.7Z M597.5 140.5V151 M597.5 157.6V159.6 M594.5 140.5h6 M594.5 159.6h6 M595.15 151h4.7V157.6h-4.7Z M604.5 119.6V127.7 M604.5 149.1V149.1 M601.5 119.6h6 M601.5 149.1h6 M602.15 127.7h4.7V149.1h-4.7Z M607.7 108.6V118.9 M607.7 125.6V148.5 M604.7 108.6h6 M604.7 148.5h6 M605.35 118.9h4.7V125.6h-4.7Z M617.1 120.2V132.8 M617.1 149.1V152.9 M614.1 120.2h6 M614.1 152.9h6 M614.75 132.8h4.7V149.1h-4.7Z M620.3 127.5V137.8 M620.3 144.1V151.6 M617.3 127.5h6 M617.3 151.6h6 M617.95 137.8h4.7V144.1h-4.7Z M632.1 130.4V143.4 M632.1 151.5V153.4 M629.1 130.4h6 M629.1 153.4h6 M629.75 143.4h4.7V151.5h-4.7Z M643.5 115.4V130 M643.5 146.3V146.3 M640.5 115.4h6 M640.5 146.3h6 M641.15 130h4.7V146.3h-4.7Z M645.8 116V132.3 M645.8 146.3V146.3 M642.8 116h6 M642.8 146.3h6 M643.45 132.3h4.7V146.3h-4.7Z M651.3 114.4V129.4 M651.3 144.7V146.3 M648.3 114.4h6 M648.3 146.3h6 M648.95 129.4h4.7V144.7h-4.7Z M654.6 129.4V134.6 M654.6 138.5V146.3 M651.6 129.4h6 M651.6 146.3h6 M652.25 134.6h4.7V138.5h-4.7Z" fill="none" stroke="rgba(70,70,230,0.6)" stroke-width="1.0"/>
<polyline points="408.3,177.1 424.6,172.3 447.3,89.2 456.9,97.9 480.4,173.8 486.7,71 493.3,123.8 510.5,160 526.3,117 530.8,127.4 535.5,122.2 544.7,138.1 565.1,125.5 569.2,122.5 580.3,137.3 590.7,151 597.5,156 604.5,130.3 607.7,125.6 617.1,136.2 620.3,140.3 632.1,145.3 643.5,143 645.8,142.6 651.3,131.7 654.6,136.3" fill="none" stroke="#1010c8" stroke-width="1.3" stroke-linejoin="round"/>
<path d="M406.51 177.1h3.57 M422.81 172.3h3.57 M445.51 89.2h3.57 M455.11 97.9h3.57 M478.61 173.8h3.57 M484.91 71h3.57 M491.51 123.8h3.57 M508.71 160h3.57 M524.51 117h3.57 M529.01 127.4h3.57 M533.71 122.2h3.57 M542.91 138.1h3.57 M563.31 125.5h3.57 M567.41 122.5h3.57 M578.51 137.3h3.57 M588.91 151h3.57 M595.71 156h3.57 M602.71 130.3h3.57 M605.91 125.6h3.57 M615.31 136.2h3.57 M618.51 140.3h3.57 M630.31 145.3h3.57 M641.71 143h3.57 M644.01 142.6h3.57 M649.51 131.7h3.57 M652.81 136.3h3.57" stroke="#000" stroke-width="1.6"/>
</g>
<path d="M369.5 187.7h6 M659.5 187.7h-6 M369.5 177.22h3.3 M659.5 177.22h-3.3 M369.5 171.1h3.3 M659.5 171.1h-3.3 M369.5 166.75h3.3 M659.5 166.75h-3.3 M369.5 163.38h3.3 M659.5 163.38h-3.3 M369.5 160.62h3.3 M659.5 160.62h-3.3 M369.5 158.29h3.3 M659.5 158.29h-3.3 M369.5 156.27h3.3 M659.5 156.27h-3.3 M369.5 154.49h3.3 M659.5 154.49h-3.3 M369.5 152.9h6 M659.5 152.9h-6 M369.5 142.42h3.3 M659.5 142.42h-3.3 M369.5 136.3h3.3 M659.5 136.3h-3.3 M369.5 131.95h3.3 M659.5 131.95h-3.3 M369.5 128.58h3.3 M659.5 128.58h-3.3 M369.5 125.82h3.3 M659.5 125.82h-3.3 M369.5 123.49h3.3 M659.5 123.49h-3.3 M369.5 121.47h3.3 M659.5 121.47h-3.3 M369.5 119.69h3.3 M659.5 119.69h-3.3 M369.5 118.1h6 M659.5 118.1h-6 M369.5 107.62h3.3 M659.5 107.62h-3.3 M369.5 101.5h3.3 M659.5 101.5h-3.3 M369.5 97.15h3.3 M659.5 97.15h-3.3 M369.5 93.78h3.3 M659.5 93.78h-3.3 M369.5 91.02h3.3 M659.5 91.02h-3.3 M369.5 88.69h3.3 M659.5 88.69h-3.3 M369.5 86.67h3.3 M659.5 86.67h-3.3 M369.5 84.89h3.3 M659.5 84.89h-3.3 M369.5 83.3h6 M659.5 83.3h-6 M369.5 72.82h3.3 M659.5 72.82h-3.3 M369.5 66.7h3.3 M659.5 66.7h-3.3 M369.5 62.35h3.3 M659.5 62.35h-3.3 M369.5 58.98h3.3 M659.5 58.98h-3.3 M369.5 56.22h3.3 M659.5 56.22h-3.3 M369.5 53.89h3.3 M659.5 53.89h-3.3 M369.5 51.87h3.3 M659.5 51.87h-3.3 M369.5 50.09h3.3 M659.5 50.09h-3.3 M369.5 48.5h6 M659.5 48.5h-6 M369.5 38.02h3.3 M659.5 38.02h-3.3 M369.5 31.9h3.3 M659.5 31.9h-3.3 M369.5 27.55h3.3 M659.5 27.55h-3.3 M369.5 24.18h3.3 M659.5 24.18h-3.3 M369.5 21.42h3.3 M659.5 21.42h-3.3" stroke="#262626" stroke-width="0.9" fill="none"/>
<path d="M369.5 187.7v-6 M369.5 19.3v6 M408.65 187.7v-6 M408.65 19.3v6 M447.8 187.7v-6 M447.8 19.3v6 M486.95 187.7v-6 M486.95 19.3v6 M526.1 187.7v-6 M526.1 19.3v6 M565.25 187.7v-6 M565.25 19.3v6 M604.4 187.7v-6 M604.4 19.3v6 M643.55 187.7v-6 M643.55 19.3v6 M389.07 187.7v-3.3 M389.07 19.3v3.3 M428.23 187.7v-3.3 M428.23 19.3v3.3 M467.38 187.7v-3.3 M467.38 19.3v3.3 M506.52 187.7v-3.3 M506.52 19.3v3.3 M545.67 187.7v-3.3 M545.67 19.3v3.3 M584.83 187.7v-3.3 M584.83 19.3v3.3 M623.98 187.7v-3.3 M623.98 19.3v3.3" stroke="#262626" stroke-width="0.9" fill="none"/>
<rect x="369.5" y="19.3" width="290" height="168.4" fill="none" stroke="#262626" stroke-width="1"/>
<text x="89.5" y="382.96" text-anchor="end" font-size="14.5">2</text><path d="M71.7 379.36H81" stroke="#000" stroke-width="1.0"/><text x="70.3" y="390.46" text-anchor="end" font-size="20.5">10</text>
<text x="89.5" y="312.23" text-anchor="end" font-size="14.5">1</text><path d="M71.7 308.63H81" stroke="#000" stroke-width="1.0"/><text x="70.3" y="319.73" text-anchor="end" font-size="20.5">10</text>
<text x="89.5" y="241.5" text-anchor="end" font-size="14.5">0</text><text x="82.7" y="249" text-anchor="end" font-size="20.5">10</text>
<text x="89.5" y="170.77" text-anchor="end" font-size="14.5">1</text><text x="82.7" y="178.27" text-anchor="end" font-size="20.5">10</text>
<text x="89.5" y="100.04" text-anchor="end" font-size="14.5">2</text><text x="82.7" y="107.54" text-anchor="end" font-size="20.5">10</text>
<text x="89.5" y="29.31" text-anchor="end" font-size="14.5">3</text><text x="82.7" y="36.81" text-anchor="end" font-size="20.5">10</text>
<text x="104" y="412.8" text-anchor="middle" font-size="20.5">0</text>
<text x="195.49" y="412.8" text-anchor="middle" font-size="20.5">5</text>
<text x="286.97" y="412.8" text-anchor="middle" font-size="20.5">10</text>
<text x="378.45" y="412.8" text-anchor="middle" font-size="20.5">15</text>
<text x="469.94" y="412.8" text-anchor="middle" font-size="20.5">20</text>
<text x="561.42" y="412.8" text-anchor="middle" font-size="20.5">25</text>
<text x="652.91" y="412.8" text-anchor="middle" font-size="20.5">30</text>
<text x="359.2" y="185.5" text-anchor="end" font-size="12.5">2</text><path d="M342 182.2H350.5" stroke="#000" stroke-width="0.9"/><text x="340.9" y="192.5" text-anchor="end" font-size="17.5">10</text>
<text x="359.2" y="150.7" text-anchor="end" font-size="12.5">1</text><path d="M342 147.4H350.5" stroke="#000" stroke-width="0.9"/><text x="340.9" y="157.7" text-anchor="end" font-size="17.5">10</text>
<text x="359.2" y="115.9" text-anchor="end" font-size="12.5">0</text><text x="352.4" y="122.9" text-anchor="end" font-size="17.5">10</text>
<text x="359.2" y="81.1" text-anchor="end" font-size="12.5">1</text><text x="352.4" y="88.1" text-anchor="end" font-size="17.5">10</text>
<text x="359.2" y="46.3" text-anchor="end" font-size="12.5">2</text><text x="352.4" y="53.3" text-anchor="end" font-size="17.5">10</text>
<text x="369.5" y="210.3" text-anchor="middle" font-size="18.2">0</text>
<text x="408.65" y="210.3" text-anchor="middle" font-size="18.2">1</text>
<text x="447.8" y="210.3" text-anchor="middle" font-size="18.2">2</text>
<text x="486.95" y="210.3" text-anchor="middle" font-size="18.2">3</text>
<text x="526.1" y="210.3" text-anchor="middle" font-size="18.2">4</text>
<text x="565.25" y="210.3" text-anchor="middle" font-size="18.2">5</text>
<text x="604.4" y="210.3" text-anchor="middle" font-size="18.2">6</text>
<text x="643.55" y="210.3" text-anchor="middle" font-size="18.2">7</text>
<text transform="translate(31.4,315.7) rotate(-90)" font-size="20.5" textLength="150.6" lengthAdjust="spacingAndGlyphs">Time to Solution</text>
<text transform="translate(31.4,156.8) rotate(-90)" font-size="20.5" textLength="71.2" lengthAdjust="spacingAndGlyphs">[seconds]</text>
<text x="141.6" y="444.6" font-size="20.5" textLength="103.4" lengthAdjust="spacingAndGlyphs">Disk Radius</text>
<text x="251.6" y="444.6" font-size="20.5" font-style="italic">r</text>
<text x="265.4" y="444.6" font-size="20.5" textLength="16.2" lengthAdjust="spacingAndGlyphs">=</text>
<text x="287.4" y="444.6" font-size="20.5" font-style="italic" textLength="14.2" lengthAdjust="spacingAndGlyphs">R</text>
<text x="302.3" y="447.6" font-size="14.5" font-style="italic">b</text>
<text x="310.1" y="444.6" font-size="20.5" textLength="8.9" lengthAdjust="spacingAndGlyphs">/</text>
<text x="319.4" y="444.6" font-size="20.5" font-style="italic">a</text>
<text x="350.1" y="444.6" font-size="20.5" textLength="256.5" lengthAdjust="spacingAndGlyphs"><tspan font-size="23">[</tspan>in units of the lattice spacing</text>
<text x="612.8" y="444.6" font-size="20.5" font-style="italic">a</text>
<text x="620.8" y="444.6" font-size="23">]</text>
<rect x="104.4" y="483.5" width="560.6" height="186.5" fill="#f9eded"/>
<rect x="104.4" y="542.2" width="560.6" height="69.6" fill="#f4dcdc"/>
<path d="M104.4 567.9H665.0" stroke="#d42a2a" stroke-width="2"/>
<g clip-path="url(#cB)"><path d="M126.4 729.8a3.1 3.1 0 1 0 6.2 0a3.1 3.1 0 1 0 -6.2 0Z M126.4 731.5a3.1 3.1 0 1 0 6.2 0a3.1 3.1 0 1 0 -6.2 0Z M126.4 819.3a3.1 3.1 0 1 0 6.2 0a3.1 3.1 0 1 0 -6.2 0Z M126.4 823.3a3.1 3.1 0 1 0 6.2 0a3.1 3.1 0 1 0 -6.2 0Z M151.93 712.8a3.1 3.1 0 1 0 6.2 0a3.1 3.1 0 1 0 -6.2 0Z M151.93 726.6a3.1 3.1 0 1 0 6.2 0a3.1 3.1 0 1 0 -6.2 0Z M151.93 729.8a3.1 3.1 0 1 0 6.2 0a3.1 3.1 0 1 0 -6.2 0Z M151.93 815.2a3.1 3.1 0 1 0 6.2 0a3.1 3.1 0 1 0 -6.2 0Z M151.93 816.8a3.1 3.1 0 1 0 6.2 0a3.1 3.1 0 1 0 -6.2 0Z M177.46 700.1a3.1 3.1 0 1 0 6.2 0a3.1 3.1 0 1 0 -6.2 0Z M177.46 712a3.1 3.1 0 1 0 6.2 0a3.1 3.1 0 1 0 -6.2 0Z M177.46 713.6a3.1 3.1 0 1 0 6.2 0a3.1 3.1 0 1 0 -6.2 0Z M177.46 812a3.1 3.1 0 1 0 6.2 0a3.1 3.1 0 1 0 -6.2 0Z M177.46 814.4a3.1 3.1 0 1 0 6.2 0a3.1 3.1 0 1 0 -6.2 0Z M202.99 687.3a3.1 3.1 0 1 0 6.2 0a3.1 3.1 0 1 0 -6.2 0Z M202.99 695.1a3.1 3.1 0 1 0 6.2 0a3.1 3.1 0 1 0 -6.2 0Z M202.99 702.4a3.1 3.1 0 1 0 6.2 0a3.1 3.1 0 1 0 -6.2 0Z M202.99 786a3.1 3.1 0 1 0 6.2 0a3.1 3.1 0 1 0 -6.2 0Z M202.99 788.5a3.1 3.1 0 1 0 6.2 0a3.1 3.1 0 1 0 -6.2 0Z M202.99 797.3a3.1 3.1 0 1 0 6.2 0a3.1 3.1 0 1 0 -6.2 0Z M228.52 659a3.1 3.1 0 1 0 6.2 0a3.1 3.1 0 1 0 -6.2 0Z M228.52 683.3a3.1 3.1 0 1 0 6.2 0a3.1 3.1 0 1 0 -6.2 0Z M228.52 756.3a3.1 3.1 0 1 0 6.2 0a3.1 3.1 0 1 0 -6.2 0Z M254.05 646.9a3.1 3.1 0 1 0 6.2 0a3.1 3.1 0 1 0 -6.2 0Z M254.05 651.2a3.1 3.1 0 1 0 6.2 0a3.1 3.1 0 1 0 -6.2 0Z M254.05 656.4a3.1 3.1 0 1 0 6.2 0a3.1 3.1 0 1 0 -6.2 0Z M254.05 735.4a3.1 3.1 0 1 0 6.2 0a3.1 3.1 0 1 0 -6.2 0Z M254.05 740.6a3.1 3.1 0 1 0 6.2 0a3.1 3.1 0 1 0 -6.2 0Z M279.58 634.7a3.1 3.1 0 1 0 6.2 0a3.1 3.1 0 1 0 -6.2 0Z M279.58 637.3a3.1 3.1 0 1 0 6.2 0a3.1 3.1 0 1 0 -6.2 0Z M279.58 732a3.1 3.1 0 1 0 6.2 0a3.1 3.1 0 1 0 -6.2 0Z M279.58 740.3a3.1 3.1 0 1 0 6.2 0a3.1 3.1 0 1 0 -6.2 0Z M305.11 589.9a3.1 3.1 0 1 0 6.2 0a3.1 3.1 0 1 0 -6.2 0Z M305.11 613.8a3.1 3.1 0 1 0 6.2 0a3.1 3.1 0 1 0 -6.2 0Z M305.11 615.6a3.1 3.1 0 1 0 6.2 0a3.1 3.1 0 1 0 -6.2 0Z M305.11 702.4a3.1 3.1 0 1 0 6.2 0a3.1 3.1 0 1 0 -6.2 0Z M305.11 705a3.1 3.1 0 1 0 6.2 0a3.1 3.1 0 1 0 -6.2 0Z M330.64 582.6a3.1 3.1 0 1 0 6.2 0a3.1 3.1 0 1 0 -6.2 0Z M330.64 586a3.1 3.1 0 1 0 6.2 0a3.1 3.1 0 1 0 -6.2 0Z M330.64 593.3a3.1 3.1 0 1 0 6.2 0a3.1 3.1 0 1 0 -6.2 0Z M330.64 698.9a3.1 3.1 0 1 0 6.2 0a3.1 3.1 0 1 0 -6.2 0Z M356.17 573a3.1 3.1 0 1 0 6.2 0a3.1 3.1 0 1 0 -6.2 0Z M356.17 689.3a3.1 3.1 0 1 0 6.2 0a3.1 3.1 0 1 0 -6.2 0Z M356.17 692.5a3.1 3.1 0 1 0 6.2 0a3.1 3.1 0 1 0 -6.2 0Z M356.17 696.3a3.1 3.1 0 1 0 6.2 0a3.1 3.1 0 1 0 -6.2 0Z M381.7 539a3.1 3.1 0 1 0 6.2 0a3.1 3.1 0 1 0 -6.2 0Z M381.7 545a3.1 3.1 0 1 0 6.2 0a3.1 3.1 0 1 0 -6.2 0Z M381.7 548.3a3.1 3.1 0 1 0 6.2 0a3.1 3.1 0 1 0 -6.2 0Z M381.7 551.6a3.1 3.1 0 1 0 6.2 0a3.1 3.1 0 1 0 -6.2 0Z M381.7 691.5a3.1 3.1 0 1 0 6.2 0a3.1 3.1 0 1 0 -6.2 0Z M381.7 694a3.1 3.1 0 1 0 6.2 0a3.1 3.1 0 1 0 -6.2 0Z M407.23 523a3.1 3.1 0 1 0 6.2 0a3.1 3.1 0 1 0 -6.2 0Z M407.23 531a3.1 3.1 0 1 0 6.2 0a3.1 3.1 0 1 0 -6.2 0Z M407.23 668.7a3.1 3.1 0 1 0 6.2 0a3.1 3.1 0 1 0 -6.2 0Z M432.76 487.6a3.1 3.1 0 1 0 6.2 0a3.1 3.1 0 1 0 -6.2 0Z M432.76 528.2a3.1 3.1 0 1 0 6.2 0a3.1 3.1 0 1 0 -6.2 0Z M432.76 529.9a3.1 3.1 0 1 0 6.2 0a3.1 3.1 0 1 0 -6.2 0Z M432.76 672a3.1 3.1 0 1 0 6.2 0a3.1 3.1 0 1 0 -6.2 0Z M458.29 520.4a3.1 3.1 0 1 0 6.2 0a3.1 3.1 0 1 0 -6.2 0Z M458.29 535.1a3.1 3.1 0 1 0 6.2 0a3.1 3.1 0 1 0 -6.2 0Z M458.29 658.1a3.1 3.1 0 1 0 6.2 0a3.1 3.1 0 1 0 -6.2 0Z M458.29 661.4a3.1 3.1 0 1 0 6.2 0a3.1 3.1 0 1 0 -6.2 0Z M458.29 664.6a3.1 3.1 0 1 0 6.2 0a3.1 3.1 0 1 0 -6.2 0Z M483.82 516a3.1 3.1 0 1 0 6.2 0a3.1 3.1 0 1 0 -6.2 0Z M483.82 526.9a3.1 3.1 0 1 0 6.2 0a3.1 3.1 0 1 0 -6.2 0Z M483.82 669a3.1 3.1 0 1 0 6.2 0a3.1 3.1 0 1 0 -6.2 0Z M483.82 684.8a3.1 3.1 0 1 0 6.2 0a3.1 3.1 0 1 0 -6.2 0Z M483.82 784a3.1 3.1 0 1 0 6.2 0a3.1 3.1 0 1 0 -6.2 0Z M509.35 510a3.1 3.1 0 1 0 6.2 0a3.1 3.1 0 1 0 -6.2 0Z M509.35 518.2a3.1 3.1 0 1 0 6.2 0a3.1 3.1 0 1 0 -6.2 0Z M509.35 523.6a3.1 3.1 0 1 0 6.2 0a3.1 3.1 0 1 0 -6.2 0Z M509.35 671.1a3.1 3.1 0 1 0 6.2 0a3.1 3.1 0 1 0 -6.2 0Z M509.35 780a3.1 3.1 0 1 0 6.2 0a3.1 3.1 0 1 0 -6.2 0Z M534.88 516a3.1 3.1 0 1 0 6.2 0a3.1 3.1 0 1 0 -6.2 0Z M534.88 522.5a3.1 3.1 0 1 0 6.2 0a3.1 3.1 0 1 0 -6.2 0Z M534.88 670a3.1 3.1 0 1 0 6.2 0a3.1 3.1 0 1 0 -6.2 0Z M560.41 517.6a3.1 3.1 0 1 0 6.2 0a3.1 3.1 0 1 0 -6.2 0Z M560.41 520.5a3.1 3.1 0 1 0 6.2 0a3.1 3.1 0 1 0 -6.2 0Z M560.41 668a3.1 3.1 0 1 0 6.2 0a3.1 3.1 0 1 0 -6.2 0Z M560.41 788a3.1 3.1 0 1 0 6.2 0a3.1 3.1 0 1 0 -6.2 0Z M585.94 498.2a3.1 3.1 0 1 0 6.2 0a3.1 3.1 0 1 0 -6.2 0Z M585.94 501a3.1 3.1 0 1 0 6.2 0a3.1 3.1 0 1 0 -6.2 0Z M585.94 503.9a3.1 3.1 0 1 0 6.2 0a3.1 3.1 0 1 0 -6.2 0Z M585.94 646.3a3.1 3.1 0 1 0 6.2 0a3.1 3.1 0 1 0 -6.2 0Z M585.94 658.2a3.1 3.1 0 1 0 6.2 0a3.1 3.1 0 1 0 -6.2 0Z M585.94 674.1a3.1 3.1 0 1 0 6.2 0a3.1 3.1 0 1 0 -6.2 0Z M611.47 508.5a3.1 3.1 0 1 0 6.2 0a3.1 3.1 0 1 0 -6.2 0Z M611.47 511.9a3.1 3.1 0 1 0 6.2 0a3.1 3.1 0 1 0 -6.2 0Z M611.47 665.7a3.1 3.1 0 1 0 6.2 0a3.1 3.1 0 1 0 -6.2 0Z M611.47 669.1a3.1 3.1 0 1 0 6.2 0a3.1 3.1 0 1 0 -6.2 0Z M611.47 672.5a3.1 3.1 0 1 0 6.2 0a3.1 3.1 0 1 0 -6.2 0Z M637 501.6a3.1 3.1 0 1 0 6.2 0a3.1 3.1 0 1 0 -6.2 0Z M637 503.9a3.1 3.1 0 1 0 6.2 0a3.1 3.1 0 1 0 -6.2 0Z M637 510.8a3.1 3.1 0 1 0 6.2 0a3.1 3.1 0 1 0 -6.2 0Z M637 642.2a3.1 3.1 0 1 0 6.2 0a3.1 3.1 0 1 0 -6.2 0Z M637 668.7a3.1 3.1 0 1 0 6.2 0a3.1 3.1 0 1 0 -6.2 0Z" fill="none" stroke="#7870b0" stroke-width="1.4"/>
<path d="M129.5 729.8h0.01 M129.5 731.5h0.01 M129.5 819.3h0.01 M129.5 823.3h0.01 M155.03 712.8h0.01 M155.03 726.6h0.01 M155.03 729.8h0.01 M155.03 815.2h0.01 M155.03 816.8h0.01 M180.56 700.1h0.01 M180.56 712h0.01 M180.56 713.6h0.01 M180.56 812h0.01 M180.56 814.4h0.01 M206.09 687.3h0.01 M206.09 695.1h0.01 M206.09 702.4h0.01 M206.09 786h0.01 M206.09 788.5h0.01 M206.09 797.3h0.01 M231.62 659h0.01 M231.62 683.3h0.01 M231.62 756.3h0.01 M257.15 646.9h0.01 M257.15 651.2h0.01 M257.15 656.4h0.01 M257.15 735.4h0.01 M257.15 740.6h0.01 M282.68 634.7h0.01 M282.68 637.3h0.01 M282.68 732h0.01 M282.68 740.3h0.01 M308.21 589.9h0.01 M308.21 613.8h0.01 M308.21 615.6h0.01 M308.21 702.4h0.01 M308.21 705h0.01 M333.74 582.6h0.01 M333.74 586h0.01 M333.74 593.3h0.01 M333.74 698.9h0.01 M359.27 573h0.01 M359.27 689.3h0.01 M359.27 692.5h0.01 M359.27 696.3h0.01 M384.8 539h0.01 M384.8 545h0.01 M384.8 548.3h0.01 M384.8 551.6h0.01 M384.8 691.5h0.01 M384.8 694h0.01 M410.33 523h0.01 M410.33 531h0.01 M410.33 668.7h0.01 M435.86 487.6h0.01 M435.86 528.2h0.01 M435.86 529.9h0.01 M435.86 672h0.01 M461.39 520.4h0.01 M461.39 535.1h0.01 M461.39 658.1h0.01 M461.39 661.4h0.01 M461.39 664.6h0.01 M486.92 516h0.01 M486.92 526.9h0.01 M486.92 669h0.01 M486.92 684.8h0.01 M486.92 784h0.01 M512.45 510h0.01 M512.45 518.2h0.01 M512.45 523.6h0.01 M512.45 671.1h0.01 M512.45 780h0.01 M537.98 516h0.01 M537.98 522.5h0.01 M537.98 670h0.01 M563.51 517.6h0.01 M563.51 520.5h0.01 M563.51 668h0.01 M563.51 788h0.01 M589.04 498.2h0.01 M589.04 501h0.01 M589.04 503.9h0.01 M589.04 646.3h0.01 M589.04 658.2h0.01 M589.04 674.1h0.01 M614.57 508.5h0.01 M614.57 511.9h0.01 M614.57 665.7h0.01 M614.57 669.1h0.01 M614.57 672.5h0.01 M640.1 501.6h0.01 M640.1 503.9h0.01 M640.1 510.8h0.01 M640.1 642.2h0.01 M640.1 668.7h0.01" stroke="#a8a8c8" stroke-width="1.2" stroke-linecap="round"/>
<path d="M129.5 733.1V770.8 M129.5 811.6V817.3 M124.4 733.1h10.2 M124.4 817.3h10.2 M124.2 770.8h10.6V811.6h-10.6Z M124.2 802.2h10.6 M155.03 731.5V749.8 M155.03 805.9V814.1 M149.93 731.5h10.2 M149.93 814.1h10.2 M149.73 749.8h10.6V805.9h-10.6Z M149.73 768.9h10.6 M180.56 720.1V734.4 M180.56 770.8V810.3 M175.46 720.1h10.2 M175.46 810.3h10.2 M175.26 734.4h10.6V770.8h-10.6Z M175.26 750.2h10.6 M206.09 705V721.6 M206.09 754V776.2 M200.99 705h10.2 M200.99 776.2h10.2 M200.79 721.6h10.6V754h-10.6Z M200.79 736.6h10.6 M231.62 686.3V704.7 M231.62 735.9V752.3 M226.52 686.3h10.2 M226.52 752.3h10.2 M226.32 704.7h10.6V735.9h-10.6Z M226.32 721.5h10.6 M257.15 662.5V689.1 M257.15 719.4V732.5 M252.05 662.5h10.2 M252.05 732.5h10.2 M251.85 689.1h10.6V719.4h-10.6Z M251.85 702.8h10.6 M282.68 641.7V667.7 M282.68 705V728.5 M277.58 641.7h10.2 M277.58 728.5h10.2 M277.38 667.7h10.6V705h-10.6Z M277.38 688.5h10.6 M308.21 620.8V643.3 M308.21 689.9V698.5 M303.11 620.8h10.2 M303.11 698.5h10.2 M302.91 643.3h10.6V689.9h-10.6Z M302.91 668.2h10.6 M333.74 600.3V629.4 M333.74 671.1V695.4 M328.64 600.3h10.2 M328.64 695.4h10.2 M328.44 629.4h10.6V671.1h-10.6Z M328.44 654.6h10.6 M359.27 575V613.8 M359.27 667.8V685 M354.17 575h10.2 M354.17 685h10.2 M353.97 613.8h10.6V667.8h-10.6Z M353.97 636.3h10.6 M384.8 555.3V580.2 M384.8 652V670.3 M379.7 555.3h10.2 M379.7 670.3h10.2 M379.5 580.2h10.6V652h-10.6Z M379.5 624.5h10.6 M410.33 537V573.3 M410.33 638.4V667 M405.23 537h10.2 M405.23 667h10.2 M405.03 573.3h10.6V638.4h-10.6Z M405.03 613.8h10.6 M435.86 545.7V563.5 M435.86 641V663.3 M430.76 545.7h10.2 M430.76 663.3h10.2 M430.56 563.5h10.6V641h-10.6Z M430.56 609.1h10.6 M461.39 544.2V558.3 M461.39 621.9V656 M456.29 544.2h10.2 M456.29 656h10.2 M456.09 558.3h10.6V621.9h-10.6Z M456.09 582.6h10.6 M486.92 529V551.4 M486.92 620.6V663.5 M481.82 529h10.2 M481.82 663.5h10.2 M481.62 551.4h10.6V620.6h-10.6Z M481.62 576.8h10.6 M512.45 529V557.2 M512.45 614.1V668.3 M507.35 529h10.2 M507.35 668.3h10.2 M507.15 557.2h10.6V614.1h-10.6Z M507.15 580h10.6 M537.98 528.6V549.7 M537.98 612.6V664.6 M532.88 528.6h10.2 M532.88 664.6h10.2 M532.68 549.7h10.6V612.6h-10.6Z M532.68 570.3h10.6 M563.51 524.4V542.2 M563.51 611V666.8 M558.41 524.4h10.2 M558.41 666.8h10.2 M558.21 542.2h10.6V611h-10.6Z M558.21 568.9h10.6 M589.04 509.2V539.7 M589.04 601.2V639.5 M583.94 509.2h10.2 M583.94 639.5h10.2 M583.74 539.7h10.6V601.2h-10.6Z M583.74 566.6h10.6 M614.57 521.5V546.5 M614.57 608.3V661.1 M609.47 521.5h10.2 M609.47 661.1h10.2 M609.27 546.5h10.6V608.3h-10.6Z M609.27 568.9h10.6 M640.1 519.2V539.7 M640.1 608.3V637.2 M635 519.2h10.2 M635 637.2h10.2 M634.8 539.7h10.6V608.3h-10.6Z M634.8 567h10.6" fill="none" stroke="#3636c2" stroke-width="1.3"/></g>
<path d="M104.4 844.27h3.3 M665 844.27h-3.3 M104.4 840.83h3.3 M665 840.83h-3.3 M104.4 837.76h6 M665 837.76h-6 M104.4 817.54h3.3 M665 817.54h-3.3 M104.4 805.71h3.3 M665 805.71h-3.3 M104.4 797.31h3.3 M665 797.31h-3.3 M104.4 790.8h3.3 M665 790.8h-3.3 M104.4 785.48h3.3 M665 785.48h-3.3 M104.4 780.99h3.3 M665 780.99h-3.3 M104.4 777.09h3.3 M665 777.09h-3.3 M104.4 773.65h3.3 M665 773.65h-3.3 M104.4 770.58h6 M665 770.58h-6 M104.4 750.36h3.3 M665 750.36h-3.3 M104.4 738.53h3.3 M665 738.53h-3.3 M104.4 730.13h3.3 M665 730.13h-3.3 M104.4 723.62h3.3 M665 723.62h-3.3 M104.4 718.3h3.3 M665 718.3h-3.3 M104.4 713.81h3.3 M665 713.81h-3.3 M104.4 709.91h3.3 M665 709.91h-3.3 M104.4 706.47h3.3 M665 706.47h-3.3 M104.4 703.4h6 M665 703.4h-6 M104.4 683.18h3.3 M665 683.18h-3.3 M104.4 671.35h3.3 M665 671.35h-3.3 M104.4 662.95h3.3 M665 662.95h-3.3 M104.4 656.44h3.3 M665 656.44h-3.3 M104.4 651.12h3.3 M665 651.12h-3.3 M104.4 646.63h3.3 M665 646.63h-3.3 M104.4 642.73h3.3 M665 642.73h-3.3 M104.4 639.29h3.3 M665 639.29h-3.3 M104.4 636.22h6 M665 636.22h-6 M104.4 616h3.3 M665 616h-3.3 M104.4 604.17h3.3 M665 604.17h-3.3 M104.4 595.77h3.3 M665 595.77h-3.3 M104.4 589.26h3.3 M665 589.26h-3.3 M104.4 583.94h3.3 M665 583.94h-3.3 M104.4 579.45h3.3 M665 579.45h-3.3 M104.4 575.55h3.3 M665 575.55h-3.3 M104.4 572.11h3.3 M665 572.11h-3.3 M104.4 569.04h6 M665 569.04h-6 M104.4 548.82h3.3 M665 548.82h-3.3 M104.4 536.99h3.3 M665 536.99h-3.3 M104.4 528.59h3.3 M665 528.59h-3.3 M104.4 522.08h3.3 M665 522.08h-3.3 M104.4 516.76h3.3 M665 516.76h-3.3 M104.4 512.27h3.3 M665 512.27h-3.3 M104.4 508.37h3.3 M665 508.37h-3.3 M104.4 504.93h3.3 M665 504.93h-3.3 M104.4 501.86h6 M665 501.86h-6 M104.4 481.64h3.3 M665 481.64h-3.3" stroke="#262626" stroke-width="0.9" fill="none"/>
<path d="M129.5 844.2v-6 M129.5 470.4v6 M180.56 844.2v-6 M180.56 470.4v6 M231.62 844.2v-6 M231.62 470.4v6 M282.68 844.2v-6 M282.68 470.4v6 M333.74 844.2v-6 M333.74 470.4v6 M384.8 844.2v-6 M384.8 470.4v6 M435.86 844.2v-6 M435.86 470.4v6 M486.92 844.2v-6 M486.92 470.4v6 M537.98 844.2v-6 M537.98 470.4v6 M589.04 844.2v-6 M589.04 470.4v6 M640.1 844.2v-6 M640.1 470.4v6 M155.03 844.2v-3.3 M155.03 470.4v3.3 M206.09 844.2v-3.3 M206.09 470.4v3.3 M257.15 844.2v-3.3 M257.15 470.4v3.3 M308.21 844.2v-3.3 M308.21 470.4v3.3 M359.27 844.2v-3.3 M359.27 470.4v3.3 M410.33 844.2v-3.3 M410.33 470.4v3.3 M461.39 844.2v-3.3 M461.39 470.4v3.3 M512.45 844.2v-3.3 M512.45 470.4v3.3 M563.51 844.2v-3.3 M563.51 470.4v3.3 M614.57 844.2v-3.3 M614.57 470.4v3.3" stroke="#262626" stroke-width="0.9" fill="none"/>
<rect x="104.4" y="470.4" width="560.6" height="373.8" fill="none" stroke="#262626" stroke-width="1"/>
<text x="89.5" y="835.36" text-anchor="end" font-size="14.5" stroke="#000" stroke-width="0.25">2</text><path d="M71.7 831.76H81" stroke="#000" stroke-width="1.2"/><text x="70.3" y="842.86" text-anchor="end" font-size="20.5" stroke="#000" stroke-width="0.25">10</text>
<text x="89.5" y="768.18" text-anchor="end" font-size="14.5" stroke="#000" stroke-width="0.25">1</text><path d="M71.7 764.58H81" stroke="#000" stroke-width="1.2"/><text x="70.3" y="775.68" text-anchor="end" font-size="20.5" stroke="#000" stroke-width="0.25">10</text>
<text x="89.5" y="701" text-anchor="end" font-size="14.5" stroke="#000" stroke-width="0.25">0</text><text x="82.7" y="708.5" text-anchor="end" font-size="20.5" stroke="#000" stroke-width="0.25">10</text>
<text x="89.5" y="633.82" text-anchor="end" font-size="14.5" stroke="#000" stroke-width="0.25">1</text><text x="82.7" y="641.32" text-anchor="end" font-size="20.5" stroke="#000" stroke-width="0.25">10</text>
<text x="89.5" y="566.64" text-anchor="end" font-size="14.5" stroke="#000" stroke-width="0.25">2</text><text x="82.7" y="574.14" text-anchor="end" font-size="20.5" stroke="#000" stroke-width="0.25">10</text>
<text x="89.5" y="499.46" text-anchor="end" font-size="14.5" stroke="#000" stroke-width="0.25">3</text><text x="82.7" y="506.96" text-anchor="end" font-size="20.5" stroke="#000" stroke-width="0.25">10</text>
<text x="129.5" y="871.6" text-anchor="middle" font-size="20.5" stroke="#000" stroke-width="0.3">0</text>
<text x="180.56" y="871.6" text-anchor="middle" font-size="20.5" stroke="#000" stroke-width="0.3">0.1</text>
<text x="231.62" y="871.6" text-anchor="middle" font-size="20.5" stroke="#000" stroke-width="0.3">0.2</text>
<text x="282.68" y="871.6" text-anchor="middle" font-size="20.5" stroke="#000" stroke-width="0.3">0.3</text>
<text x="333.74" y="871.6" text-anchor="middle" font-size="20.5" stroke="#000" stroke-width="0.3">0.4</text>
<text x="384.8" y="871.6" text-anchor="middle" font-size="20.5" stroke="#000" stroke-width="0.3">0.5</text>
<text x="435.86" y="871.6" text-anchor="middle" font-size="20.5" stroke="#000" stroke-width="0.3">0.6</text>
<text x="486.92" y="871.6" text-anchor="middle" font-size="20.5" stroke="#000" stroke-width="0.3">0.7</text>
<text x="537.98" y="871.6" text-anchor="middle" font-size="20.5" stroke="#000" stroke-width="0.3">0.8</text>
<text x="589.04" y="871.6" text-anchor="middle" font-size="20.5" stroke="#000" stroke-width="0.3">0.9</text>
<text x="640.1" y="871.6" text-anchor="middle" font-size="20.5" stroke="#000" stroke-width="0.3">1</text>
<text transform="translate(31.4,771.7) rotate(-90)" font-size="20.5" textLength="150.6" lengthAdjust="spacingAndGlyphs" stroke="#000" stroke-width="0.3">Time to Solution</text>
<text transform="translate(31.4,612.8) rotate(-90)" font-size="20.5" textLength="71.2" lengthAdjust="spacingAndGlyphs" stroke="#000" stroke-width="0.3">[seconds]</text>
<text x="264.2" y="903.5" font-size="20.5" textLength="69.3" lengthAdjust="spacingAndGlyphs" stroke="#000" stroke-width="0.3">Fraction</text>
<text x="340.6" y="903.5" font-size="20.5" font-style="italic" stroke="#000" stroke-width="0.3">ε</text>
<text x="356.9" y="903.5" font-size="20.5" textLength="15.8" lengthAdjust="spacingAndGlyphs" stroke="#000" stroke-width="0.3">of</text>
<text x="380" y="903.5" font-size="20.5" textLength="49" lengthAdjust="spacingAndGlyphs" stroke="#000" stroke-width="0.3">Edges</text>
<text x="435.8" y="903.5" font-size="20.5" textLength="69.2" lengthAdjust="spacingAndGlyphs" stroke="#000" stroke-width="0.3">Rewired</text>
</svg></body></html>
